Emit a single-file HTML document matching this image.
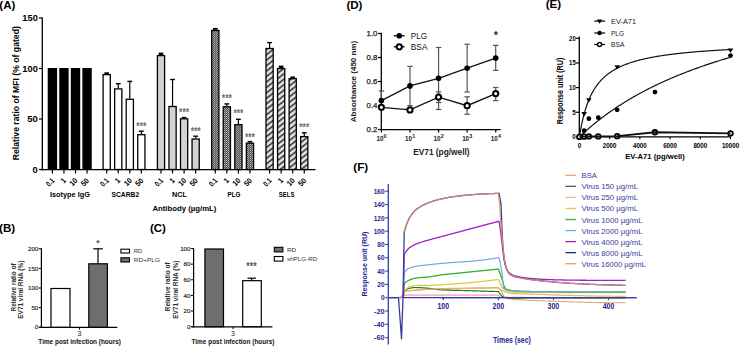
<!DOCTYPE html>
<html><head><meta charset="utf-8"><style>
html,body{margin:0;padding:0;background:#fff;width:740px;height:346px;overflow:hidden;}
svg{display:block;font-family:"Liberation Sans", sans-serif;}
</style></head><body>
<svg width="740" height="346" viewBox="0 0 740 346" font-family='"Liberation Sans", sans-serif'><defs>
<pattern id="dots" width="2" height="2" patternUnits="userSpaceOnUse"><rect width="2" height="2" fill="#555"/><rect x="0" y="0" width="1" height="1" fill="#b4b4b4"/><rect x="1" y="1" width="1" height="1" fill="#8a8a8a"/></pattern>
<pattern id="hatch" width="4.3" height="4.3" patternUnits="userSpaceOnUse" patternTransform="rotate(52)"><rect width="4.3" height="4.3" fill="#dedede"/><rect x="0" y="0" width="1.4" height="4.3" fill="#2a2a2a"/></pattern>
</defs><text x="-0.70" y="8.50" font-size="11.6" font-weight="bold" text-anchor="start" fill="#000" >(A)</text>
<line x1="42.30" y1="17.50" x2="42.30" y2="170.20" stroke="#000" stroke-width="1.3" />
<line x1="40.80" y1="169.60" x2="315.50" y2="169.60" stroke="#000" stroke-width="1.4" />
<line x1="39.00" y1="169.50" x2="42.30" y2="169.50" stroke="#000" stroke-width="1.2" />
<text x="37.80" y="172.50" font-size="8.6" font-weight="bold" text-anchor="end" fill="#000" textLength="5.2" lengthAdjust="spacingAndGlyphs" >0</text>
<line x1="39.00" y1="119.00" x2="42.30" y2="119.00" stroke="#000" stroke-width="1.2" />
<text x="37.80" y="122.00" font-size="8.6" font-weight="bold" text-anchor="end" fill="#000" textLength="10.5" lengthAdjust="spacingAndGlyphs" >50</text>
<line x1="39.00" y1="68.50" x2="42.30" y2="68.50" stroke="#000" stroke-width="1.2" />
<text x="37.80" y="71.50" font-size="8.6" font-weight="bold" text-anchor="end" fill="#000" textLength="15.5" lengthAdjust="spacingAndGlyphs" >100</text>
<line x1="39.00" y1="18.00" x2="42.30" y2="18.00" stroke="#000" stroke-width="1.2" />
<text x="37.80" y="21.00" font-size="8.6" font-weight="bold" text-anchor="end" fill="#000" textLength="15.5" lengthAdjust="spacingAndGlyphs" >150</text>
<text x="19.40" y="93.20" font-size="8.6" font-weight="bold" text-anchor="middle" fill="#000" textLength="134" lengthAdjust="spacingAndGlyphs" transform="rotate(-90 19.40 93.20)" >Relative ratio of MFI (% of gated)</text>
<rect x="47.70" y="68.00" width="9.4" height="101.50" fill="#000"/>
<line x1="52.40" y1="169.60" x2="52.40" y2="173.40" stroke="#000" stroke-width="1.2" />
<text x="55.00" y="181.10" font-size="7.6" font-weight="bold" text-anchor="end" fill="#000" textLength="8.4" lengthAdjust="spacingAndGlyphs" transform="rotate(-45 55.00 181.10)" >0.1</text>
<rect x="59.25" y="68.00" width="9.4" height="101.50" fill="#000"/>
<line x1="63.95" y1="169.60" x2="63.95" y2="173.40" stroke="#000" stroke-width="1.2" />
<text x="66.55" y="181.10" font-size="7.6" font-weight="bold" text-anchor="end" fill="#000" textLength="3.9" lengthAdjust="spacingAndGlyphs" transform="rotate(-45 66.55 181.10)" >1</text>
<rect x="70.80" y="68.00" width="9.4" height="101.50" fill="#000"/>
<line x1="75.50" y1="169.60" x2="75.50" y2="173.40" stroke="#000" stroke-width="1.2" />
<text x="78.10" y="181.10" font-size="7.6" font-weight="bold" text-anchor="end" fill="#000" textLength="7.8" lengthAdjust="spacingAndGlyphs" transform="rotate(-45 78.10 181.10)" >10</text>
<rect x="82.35" y="68.00" width="9.4" height="101.50" fill="#000"/>
<line x1="87.05" y1="169.60" x2="87.05" y2="173.40" stroke="#000" stroke-width="1.2" />
<text x="89.65" y="181.10" font-size="7.6" font-weight="bold" text-anchor="end" fill="#000" textLength="7.9" lengthAdjust="spacingAndGlyphs" transform="rotate(-45 89.65 181.10)" >50</text>
<text x="69.92" y="196.80" font-size="7.5" font-weight="bold" text-anchor="middle" fill="#000" textLength="40" lengthAdjust="spacingAndGlyphs" >Isotype IgG</text>
<rect x="104.40" y="72.30" width="4.6" height="1.70" fill="#000"/>
<rect x="103.10" y="74.60" width="7.2" height="94.90" fill="#fff" stroke="#000" stroke-width="1.3"/>
<line x1="106.70" y1="169.60" x2="106.70" y2="173.40" stroke="#000" stroke-width="1.2" />
<text x="109.30" y="181.10" font-size="7.6" font-weight="bold" text-anchor="end" fill="#000" textLength="8.4" lengthAdjust="spacingAndGlyphs" transform="rotate(-45 109.30 181.10)" >0.1</text>
<line x1="118.25" y1="83.70" x2="118.25" y2="88.30" stroke="#000" stroke-width="1.2" />
<line x1="115.85" y1="83.70" x2="120.65" y2="83.70" stroke="#000" stroke-width="1.4" />
<rect x="114.65" y="88.90" width="7.2" height="80.60" fill="#fff" stroke="#000" stroke-width="1.3"/>
<line x1="118.25" y1="169.60" x2="118.25" y2="173.40" stroke="#000" stroke-width="1.2" />
<text x="120.85" y="181.10" font-size="7.6" font-weight="bold" text-anchor="end" fill="#000" textLength="3.9" lengthAdjust="spacingAndGlyphs" transform="rotate(-45 120.85 181.10)" >1</text>
<line x1="129.80" y1="81.40" x2="129.80" y2="98.70" stroke="#000" stroke-width="1.2" />
<line x1="127.40" y1="81.40" x2="132.20" y2="81.40" stroke="#000" stroke-width="1.4" />
<rect x="126.20" y="99.30" width="7.2" height="70.20" fill="#fff" stroke="#000" stroke-width="1.3"/>
<line x1="129.80" y1="169.60" x2="129.80" y2="173.40" stroke="#000" stroke-width="1.2" />
<text x="132.40" y="181.10" font-size="7.6" font-weight="bold" text-anchor="end" fill="#000" textLength="7.8" lengthAdjust="spacingAndGlyphs" transform="rotate(-45 132.40 181.10)" >10</text>
<line x1="141.35" y1="131.20" x2="141.35" y2="134.10" stroke="#000" stroke-width="1.2" />
<line x1="138.95" y1="131.20" x2="143.75" y2="131.20" stroke="#000" stroke-width="1.4" />
<rect x="137.75" y="134.70" width="7.2" height="34.80" fill="#fff" stroke="#000" stroke-width="1.3"/>
<text x="141.35" y="130.00" font-size="10" font-weight="bold" text-anchor="middle" fill="#6a6a6a" textLength="10" lengthAdjust="spacingAndGlyphs" >***</text>
<line x1="141.35" y1="169.60" x2="141.35" y2="173.40" stroke="#000" stroke-width="1.2" />
<text x="143.95" y="181.10" font-size="7.6" font-weight="bold" text-anchor="end" fill="#000" textLength="7.9" lengthAdjust="spacingAndGlyphs" transform="rotate(-45 143.95 181.10)" >50</text>
<text x="125.32" y="196.80" font-size="7.5" font-weight="bold" text-anchor="middle" fill="#000" textLength="27.6" lengthAdjust="spacingAndGlyphs" >SCARB2</text>
<rect x="158.70" y="52.60" width="4.6" height="2.40" fill="#000"/>
<rect x="157.40" y="55.60" width="7.2" height="113.90" fill="#d2d2d2" stroke="#000" stroke-width="1.3"/>
<line x1="161.00" y1="169.60" x2="161.00" y2="173.40" stroke="#000" stroke-width="1.2" />
<text x="163.60" y="181.10" font-size="7.6" font-weight="bold" text-anchor="end" fill="#000" textLength="8.4" lengthAdjust="spacingAndGlyphs" transform="rotate(-45 163.60 181.10)" >0.1</text>
<line x1="172.55" y1="79.50" x2="172.55" y2="105.90" stroke="#000" stroke-width="1.2" />
<line x1="170.15" y1="79.50" x2="174.95" y2="79.50" stroke="#000" stroke-width="1.4" />
<rect x="168.95" y="106.50" width="7.2" height="63.00" fill="#d2d2d2" stroke="#000" stroke-width="1.3"/>
<line x1="172.55" y1="169.60" x2="172.55" y2="173.40" stroke="#000" stroke-width="1.2" />
<text x="175.15" y="181.10" font-size="7.6" font-weight="bold" text-anchor="end" fill="#000" textLength="3.9" lengthAdjust="spacingAndGlyphs" transform="rotate(-45 175.15 181.10)" >1</text>
<rect x="181.80" y="116.90" width="4.6" height="1.30" fill="#000"/>
<rect x="180.50" y="118.80" width="7.2" height="50.70" fill="#d2d2d2" stroke="#000" stroke-width="1.3"/>
<text x="184.10" y="115.70" font-size="10" font-weight="bold" text-anchor="middle" fill="#6a6a6a" textLength="10" lengthAdjust="spacingAndGlyphs" >***</text>
<line x1="184.10" y1="169.60" x2="184.10" y2="173.40" stroke="#000" stroke-width="1.2" />
<text x="186.70" y="181.10" font-size="7.6" font-weight="bold" text-anchor="end" fill="#000" textLength="7.8" lengthAdjust="spacingAndGlyphs" transform="rotate(-45 186.70 181.10)" >10</text>
<line x1="195.65" y1="136.20" x2="195.65" y2="138.40" stroke="#000" stroke-width="1.2" />
<line x1="193.25" y1="136.20" x2="198.05" y2="136.20" stroke="#000" stroke-width="1.4" />
<rect x="192.05" y="139.00" width="7.2" height="30.50" fill="#d2d2d2" stroke="#000" stroke-width="1.3"/>
<text x="195.65" y="134.60" font-size="10" font-weight="bold" text-anchor="middle" fill="#6a6a6a" textLength="10" lengthAdjust="spacingAndGlyphs" >***</text>
<line x1="195.65" y1="169.60" x2="195.65" y2="173.40" stroke="#000" stroke-width="1.2" />
<text x="198.25" y="181.10" font-size="7.6" font-weight="bold" text-anchor="end" fill="#000" textLength="7.9" lengthAdjust="spacingAndGlyphs" transform="rotate(-45 198.25 181.10)" >50</text>
<text x="179.52" y="196.80" font-size="7.5" font-weight="bold" text-anchor="middle" fill="#000" textLength="15" lengthAdjust="spacingAndGlyphs" >NCL</text>
<rect x="213.00" y="27.90" width="4.6" height="1.90" fill="#000"/>
<rect x="211.70" y="30.40" width="7.2" height="139.10" fill="url(#dots)" stroke="#000" stroke-width="1.3"/>
<line x1="215.30" y1="169.60" x2="215.30" y2="173.40" stroke="#000" stroke-width="1.2" />
<text x="217.90" y="181.10" font-size="7.6" font-weight="bold" text-anchor="end" fill="#000" textLength="8.4" lengthAdjust="spacingAndGlyphs" transform="rotate(-45 217.90 181.10)" >0.1</text>
<line x1="226.85" y1="103.90" x2="226.85" y2="106.20" stroke="#000" stroke-width="1.2" />
<line x1="224.45" y1="103.90" x2="229.25" y2="103.90" stroke="#000" stroke-width="1.4" />
<rect x="223.25" y="106.80" width="7.2" height="62.70" fill="url(#dots)" stroke="#000" stroke-width="1.3"/>
<text x="226.85" y="102.30" font-size="10" font-weight="bold" text-anchor="middle" fill="#6a6a6a" textLength="10" lengthAdjust="spacingAndGlyphs" >***</text>
<line x1="226.85" y1="169.60" x2="226.85" y2="173.40" stroke="#000" stroke-width="1.2" />
<text x="229.45" y="181.10" font-size="7.6" font-weight="bold" text-anchor="end" fill="#000" textLength="3.9" lengthAdjust="spacingAndGlyphs" transform="rotate(-45 229.45 181.10)" >1</text>
<line x1="238.40" y1="119.30" x2="238.40" y2="124.10" stroke="#000" stroke-width="1.2" />
<line x1="236.00" y1="119.30" x2="240.80" y2="119.30" stroke="#000" stroke-width="1.4" />
<rect x="234.80" y="124.70" width="7.2" height="44.80" fill="url(#dots)" stroke="#000" stroke-width="1.3"/>
<text x="238.40" y="117.30" font-size="10" font-weight="bold" text-anchor="middle" fill="#6a6a6a" textLength="10" lengthAdjust="spacingAndGlyphs" >***</text>
<line x1="238.40" y1="169.60" x2="238.40" y2="173.40" stroke="#000" stroke-width="1.2" />
<text x="241.00" y="181.10" font-size="7.6" font-weight="bold" text-anchor="end" fill="#000" textLength="7.8" lengthAdjust="spacingAndGlyphs" transform="rotate(-45 241.00 181.10)" >10</text>
<rect x="247.65" y="140.90" width="4.6" height="1.70" fill="#000"/>
<rect x="246.35" y="143.20" width="7.2" height="26.30" fill="url(#dots)" stroke="#000" stroke-width="1.3"/>
<text x="249.95" y="140.70" font-size="10" font-weight="bold" text-anchor="middle" fill="#6a6a6a" textLength="10" lengthAdjust="spacingAndGlyphs" >***</text>
<line x1="249.95" y1="169.60" x2="249.95" y2="173.40" stroke="#000" stroke-width="1.2" />
<text x="252.55" y="181.10" font-size="7.6" font-weight="bold" text-anchor="end" fill="#000" textLength="7.9" lengthAdjust="spacingAndGlyphs" transform="rotate(-45 252.55 181.10)" >50</text>
<text x="233.93" y="196.80" font-size="7.5" font-weight="bold" text-anchor="middle" fill="#000" textLength="13" lengthAdjust="spacingAndGlyphs" >PLG</text>
<line x1="269.60" y1="42.60" x2="269.60" y2="47.90" stroke="#000" stroke-width="1.2" />
<line x1="267.20" y1="42.60" x2="272.00" y2="42.60" stroke="#000" stroke-width="1.4" />
<rect x="266.00" y="48.50" width="7.2" height="121.00" fill="url(#hatch)" stroke="#000" stroke-width="1.3"/>
<line x1="269.60" y1="169.60" x2="269.60" y2="173.40" stroke="#000" stroke-width="1.2" />
<text x="272.20" y="181.10" font-size="7.6" font-weight="bold" text-anchor="end" fill="#000" textLength="8.4" lengthAdjust="spacingAndGlyphs" transform="rotate(-45 272.20 181.10)" >0.1</text>
<rect x="278.85" y="65.60" width="4.6" height="2.40" fill="#000"/>
<rect x="277.55" y="68.60" width="7.2" height="100.90" fill="url(#hatch)" stroke="#000" stroke-width="1.3"/>
<line x1="281.15" y1="169.60" x2="281.15" y2="173.40" stroke="#000" stroke-width="1.2" />
<text x="283.75" y="181.10" font-size="7.6" font-weight="bold" text-anchor="end" fill="#000" textLength="3.9" lengthAdjust="spacingAndGlyphs" transform="rotate(-45 283.75 181.10)" >1</text>
<rect x="290.40" y="76.50" width="4.6" height="1.60" fill="#000"/>
<rect x="289.10" y="78.70" width="7.2" height="90.80" fill="url(#hatch)" stroke="#000" stroke-width="1.3"/>
<line x1="292.70" y1="169.60" x2="292.70" y2="173.40" stroke="#000" stroke-width="1.2" />
<text x="295.30" y="181.10" font-size="7.6" font-weight="bold" text-anchor="end" fill="#000" textLength="7.8" lengthAdjust="spacingAndGlyphs" transform="rotate(-45 295.30 181.10)" >10</text>
<line x1="304.25" y1="132.80" x2="304.25" y2="136.00" stroke="#000" stroke-width="1.2" />
<line x1="301.85" y1="132.80" x2="306.65" y2="132.80" stroke="#000" stroke-width="1.4" />
<rect x="300.65" y="136.60" width="7.2" height="32.90" fill="url(#hatch)" stroke="#000" stroke-width="1.3"/>
<text x="304.25" y="131.30" font-size="10" font-weight="bold" text-anchor="middle" fill="#6a6a6a" textLength="10" lengthAdjust="spacingAndGlyphs" >***</text>
<line x1="304.25" y1="169.60" x2="304.25" y2="173.40" stroke="#000" stroke-width="1.2" />
<text x="306.85" y="181.10" font-size="7.6" font-weight="bold" text-anchor="end" fill="#000" textLength="7.9" lengthAdjust="spacingAndGlyphs" transform="rotate(-45 306.85 181.10)" >50</text>
<text x="286.62" y="196.80" font-size="7.5" font-weight="bold" text-anchor="middle" fill="#000" textLength="15.5" lengthAdjust="spacingAndGlyphs" >SELS</text>
<text x="184.40" y="211.20" font-size="7.9" font-weight="bold" text-anchor="middle" fill="#000" textLength="64" lengthAdjust="spacingAndGlyphs" >Antibody (µg/mL)</text>
<text x="346.40" y="8.70" font-size="11.6" font-weight="bold" text-anchor="start" fill="#000" >(D)</text>
<line x1="381.30" y1="32.80" x2="381.30" y2="130.20" stroke="#000" stroke-width="1.3" />
<line x1="380.60" y1="129.60" x2="500.50" y2="129.60" stroke="#000" stroke-width="1.4" />
<line x1="378.00" y1="129.50" x2="381.30" y2="129.50" stroke="#000" stroke-width="1.2" />
<text x="377.40" y="132.30" font-size="7.8" font-weight="normal" text-anchor="end" fill="#1a1a1a" stroke="#1a1a1a" stroke-width="0.25">0.2</text>
<line x1="378.00" y1="105.50" x2="381.30" y2="105.50" stroke="#000" stroke-width="1.2" />
<text x="377.40" y="108.30" font-size="7.8" font-weight="normal" text-anchor="end" fill="#1a1a1a" stroke="#1a1a1a" stroke-width="0.25">0.4</text>
<line x1="378.00" y1="81.50" x2="381.30" y2="81.50" stroke="#000" stroke-width="1.2" />
<text x="377.40" y="84.30" font-size="7.8" font-weight="normal" text-anchor="end" fill="#1a1a1a" stroke="#1a1a1a" stroke-width="0.25">0.6</text>
<line x1="378.00" y1="57.50" x2="381.30" y2="57.50" stroke="#000" stroke-width="1.2" />
<text x="377.40" y="60.30" font-size="7.8" font-weight="normal" text-anchor="end" fill="#1a1a1a" stroke="#1a1a1a" stroke-width="0.25">0.8</text>
<line x1="378.00" y1="33.50" x2="381.30" y2="33.50" stroke="#000" stroke-width="1.2" />
<text x="377.40" y="36.30" font-size="7.8" font-weight="normal" text-anchor="end" fill="#1a1a1a" stroke="#1a1a1a" stroke-width="0.25">1.0</text>
<line x1="381.40" y1="129.60" x2="381.40" y2="132.60" stroke="#000" stroke-width="1.2" />
<text x="376.40" y="140.90" font-size="7.4" font-weight="bold" text-anchor="start" fill="#222" textLength="7.0" lengthAdjust="spacingAndGlyphs" >10</text>
<text x="383.60" y="138.20" font-size="5.0" font-weight="bold" text-anchor="start" fill="#222" textLength="3.0" lengthAdjust="spacingAndGlyphs" >0</text>
<line x1="409.98" y1="129.60" x2="409.98" y2="132.60" stroke="#000" stroke-width="1.2" />
<text x="404.98" y="140.90" font-size="7.4" font-weight="bold" text-anchor="start" fill="#222" textLength="7.0" lengthAdjust="spacingAndGlyphs" >10</text>
<text x="412.18" y="138.20" font-size="5.0" font-weight="bold" text-anchor="start" fill="#222" textLength="3.0" lengthAdjust="spacingAndGlyphs" >1</text>
<line x1="438.56" y1="129.60" x2="438.56" y2="132.60" stroke="#000" stroke-width="1.2" />
<text x="433.56" y="140.90" font-size="7.4" font-weight="bold" text-anchor="start" fill="#222" textLength="7.0" lengthAdjust="spacingAndGlyphs" >10</text>
<text x="440.76" y="138.20" font-size="5.0" font-weight="bold" text-anchor="start" fill="#222" textLength="3.0" lengthAdjust="spacingAndGlyphs" >2</text>
<line x1="467.14" y1="129.60" x2="467.14" y2="132.60" stroke="#000" stroke-width="1.2" />
<text x="462.14" y="140.90" font-size="7.4" font-weight="bold" text-anchor="start" fill="#222" textLength="7.0" lengthAdjust="spacingAndGlyphs" >10</text>
<text x="469.34" y="138.20" font-size="5.0" font-weight="bold" text-anchor="start" fill="#222" textLength="3.0" lengthAdjust="spacingAndGlyphs" >3</text>
<line x1="495.72" y1="129.60" x2="495.72" y2="132.60" stroke="#000" stroke-width="1.2" />
<text x="490.72" y="140.90" font-size="7.4" font-weight="bold" text-anchor="start" fill="#222" textLength="7.0" lengthAdjust="spacingAndGlyphs" >10</text>
<text x="497.92" y="138.20" font-size="5.0" font-weight="bold" text-anchor="start" fill="#222" textLength="3.0" lengthAdjust="spacingAndGlyphs" >4</text>
<text x="441.40" y="155.40" font-size="8.2" font-weight="bold" text-anchor="middle" fill="#222" textLength="56.5" lengthAdjust="spacingAndGlyphs" >EV71 (pg/well)</text>
<text x="356.20" y="81.50" font-size="8.0" font-weight="bold" text-anchor="middle" fill="#222" transform="rotate(-90 356.20 81.50)" >Absorbance (450 nm)</text>
<line x1="381.40" y1="91.00" x2="381.40" y2="100.60" stroke="#555" stroke-width="1.2" />
<line x1="378.70" y1="91.00" x2="384.10" y2="91.00" stroke="#555" stroke-width="1.2" />
<line x1="409.98" y1="66.40" x2="409.98" y2="85.90" stroke="#555" stroke-width="1.2" />
<line x1="407.28" y1="66.40" x2="412.68" y2="66.40" stroke="#555" stroke-width="1.2" />
<line x1="409.98" y1="85.90" x2="409.98" y2="105.60" stroke="#555" stroke-width="1.2" />
<line x1="407.28" y1="105.60" x2="412.68" y2="105.60" stroke="#555" stroke-width="1.2" />
<line x1="438.56" y1="47.50" x2="438.56" y2="78.30" stroke="#555" stroke-width="1.2" />
<line x1="435.86" y1="47.50" x2="441.26" y2="47.50" stroke="#555" stroke-width="1.2" />
<line x1="438.56" y1="78.30" x2="438.56" y2="109.50" stroke="#555" stroke-width="1.2" />
<line x1="435.86" y1="109.50" x2="441.26" y2="109.50" stroke="#555" stroke-width="1.2" />
<line x1="438.56" y1="91.90" x2="438.56" y2="97.10" stroke="#555" stroke-width="1.2" />
<line x1="435.86" y1="91.90" x2="441.26" y2="91.90" stroke="#555" stroke-width="1.2" />
<line x1="438.56" y1="97.10" x2="438.56" y2="102.50" stroke="#555" stroke-width="1.2" />
<line x1="435.86" y1="102.50" x2="441.26" y2="102.50" stroke="#555" stroke-width="1.2" />
<line x1="467.14" y1="44.20" x2="467.14" y2="68.20" stroke="#555" stroke-width="1.2" />
<line x1="464.44" y1="44.20" x2="469.84" y2="44.20" stroke="#555" stroke-width="1.2" />
<line x1="467.14" y1="68.20" x2="467.14" y2="92.00" stroke="#555" stroke-width="1.2" />
<line x1="464.44" y1="92.00" x2="469.84" y2="92.00" stroke="#555" stroke-width="1.2" />
<line x1="467.14" y1="96.80" x2="467.14" y2="105.70" stroke="#555" stroke-width="1.2" />
<line x1="464.44" y1="96.80" x2="469.84" y2="96.80" stroke="#555" stroke-width="1.2" />
<line x1="467.14" y1="105.70" x2="467.14" y2="114.30" stroke="#555" stroke-width="1.2" />
<line x1="464.44" y1="114.30" x2="469.84" y2="114.30" stroke="#555" stroke-width="1.2" />
<line x1="495.72" y1="45.40" x2="495.72" y2="58.10" stroke="#555" stroke-width="1.2" />
<line x1="493.02" y1="45.40" x2="498.42" y2="45.40" stroke="#555" stroke-width="1.2" />
<line x1="495.72" y1="58.10" x2="495.72" y2="70.30" stroke="#555" stroke-width="1.2" />
<line x1="493.02" y1="70.30" x2="498.42" y2="70.30" stroke="#555" stroke-width="1.2" />
<line x1="495.72" y1="87.50" x2="495.72" y2="93.60" stroke="#555" stroke-width="1.2" />
<line x1="493.02" y1="87.50" x2="498.42" y2="87.50" stroke="#555" stroke-width="1.2" />
<line x1="495.72" y1="93.60" x2="495.72" y2="100.60" stroke="#555" stroke-width="1.2" />
<line x1="493.02" y1="100.60" x2="498.42" y2="100.60" stroke="#555" stroke-width="1.2" />
<polyline points="381.40,100.60 409.98,85.90 438.56,78.30 467.14,68.20 495.72,58.10" fill="none" stroke="#111" stroke-width="1.3"/>
<polyline points="381.40,107.30 409.98,109.90 438.56,97.10 467.14,105.70 495.72,93.60" fill="none" stroke="#111" stroke-width="1.3"/>
<circle cx="381.40" cy="100.60" r="2.8" fill="#000"/>
<circle cx="381.40" cy="107.30" r="2.6" fill="#fff" stroke="#000" stroke-width="2.0"/>
<circle cx="409.98" cy="85.90" r="2.8" fill="#000"/>
<circle cx="409.98" cy="109.90" r="2.6" fill="#fff" stroke="#000" stroke-width="2.0"/>
<circle cx="438.56" cy="78.30" r="2.8" fill="#000"/>
<circle cx="438.56" cy="97.10" r="2.6" fill="#fff" stroke="#000" stroke-width="2.0"/>
<circle cx="467.14" cy="68.20" r="2.8" fill="#000"/>
<circle cx="467.14" cy="105.70" r="2.6" fill="#fff" stroke="#000" stroke-width="2.0"/>
<circle cx="495.72" cy="58.10" r="2.8" fill="#000"/>
<circle cx="495.72" cy="93.60" r="2.6" fill="#fff" stroke="#000" stroke-width="2.0"/>
<text x="495.80" y="38.50" font-size="11" font-weight="bold" text-anchor="middle" fill="#333" >*</text>
<line x1="393.80" y1="35.80" x2="404.60" y2="35.80" stroke="#000" stroke-width="1.3" />
<circle cx="399.3" cy="35.8" r="2.8" fill="#000"/>
<text x="410.80" y="38.60" font-size="9.2" font-weight="normal" text-anchor="start" fill="#111" textLength="16.3" lengthAdjust="spacingAndGlyphs" >PLG</text>
<line x1="393.80" y1="46.80" x2="404.60" y2="46.80" stroke="#000" stroke-width="1.3" />
<circle cx="399.3" cy="46.8" r="2.6" fill="#fff" stroke="#000" stroke-width="2.0"/>
<text x="410.80" y="49.80" font-size="9.2" font-weight="normal" text-anchor="start" fill="#111" textLength="16.7" lengthAdjust="spacingAndGlyphs" >BSA</text>
<text x="545.70" y="8.40" font-size="11.6" font-weight="bold" text-anchor="start" fill="#000" >(E)</text>
<line x1="579.30" y1="36.60" x2="579.30" y2="137.60" stroke="#000" stroke-width="1.3" />
<line x1="578.70" y1="136.90" x2="730.80" y2="136.90" stroke="#000" stroke-width="1.4" />
<line x1="576.00" y1="136.90" x2="579.30" y2="136.90" stroke="#000" stroke-width="1.2" />
<text x="575.80" y="139.20" font-size="7.8" font-weight="bold" text-anchor="end" fill="#000" textLength="3.5" lengthAdjust="spacingAndGlyphs" >0</text>
<line x1="576.00" y1="112.25" x2="579.30" y2="112.25" stroke="#000" stroke-width="1.2" />
<text x="575.80" y="114.55" font-size="7.8" font-weight="bold" text-anchor="end" fill="#000" textLength="3.5" lengthAdjust="spacingAndGlyphs" >5</text>
<line x1="576.00" y1="87.60" x2="579.30" y2="87.60" stroke="#000" stroke-width="1.2" />
<text x="575.80" y="89.90" font-size="7.8" font-weight="bold" text-anchor="end" fill="#000" textLength="6.7" lengthAdjust="spacingAndGlyphs" >10</text>
<line x1="576.00" y1="62.95" x2="579.30" y2="62.95" stroke="#000" stroke-width="1.2" />
<text x="575.80" y="65.25" font-size="7.8" font-weight="bold" text-anchor="end" fill="#000" textLength="6.7" lengthAdjust="spacingAndGlyphs" >15</text>
<line x1="576.00" y1="38.30" x2="579.30" y2="38.30" stroke="#000" stroke-width="1.2" />
<text x="575.80" y="40.60" font-size="7.8" font-weight="bold" text-anchor="end" fill="#000" textLength="6.7" lengthAdjust="spacingAndGlyphs" >20</text>
<line x1="579.40" y1="136.90" x2="579.40" y2="139.20" stroke="#000" stroke-width="1.1" />
<text x="579.40" y="148.30" font-size="8.0" font-weight="bold" text-anchor="middle" fill="#000" textLength="3.45" lengthAdjust="spacingAndGlyphs" >0</text>
<line x1="609.62" y1="136.90" x2="609.62" y2="139.20" stroke="#000" stroke-width="1.1" />
<text x="609.62" y="148.30" font-size="8.0" font-weight="bold" text-anchor="middle" fill="#000" textLength="13.8" lengthAdjust="spacingAndGlyphs" >2000</text>
<line x1="639.84" y1="136.90" x2="639.84" y2="139.20" stroke="#000" stroke-width="1.1" />
<text x="639.84" y="148.30" font-size="8.0" font-weight="bold" text-anchor="middle" fill="#000" textLength="13.8" lengthAdjust="spacingAndGlyphs" >4000</text>
<line x1="670.06" y1="136.90" x2="670.06" y2="139.20" stroke="#000" stroke-width="1.1" />
<text x="670.06" y="148.30" font-size="8.0" font-weight="bold" text-anchor="middle" fill="#000" textLength="13.8" lengthAdjust="spacingAndGlyphs" >6000</text>
<line x1="700.28" y1="136.90" x2="700.28" y2="139.20" stroke="#000" stroke-width="1.1" />
<text x="700.28" y="148.30" font-size="8.0" font-weight="bold" text-anchor="middle" fill="#000" textLength="13.8" lengthAdjust="spacingAndGlyphs" >8000</text>
<line x1="730.50" y1="136.90" x2="730.50" y2="139.20" stroke="#000" stroke-width="1.1" />
<text x="730.50" y="148.30" font-size="8.0" font-weight="bold" text-anchor="middle" fill="#000" textLength="17.25" lengthAdjust="spacingAndGlyphs" >10000</text>
<text x="655.00" y="159.00" font-size="8.0" font-weight="bold" text-anchor="middle" fill="#000" textLength="59.5" lengthAdjust="spacingAndGlyphs" >EV-A71 (pg/well)</text>
<text x="563.30" y="91.00" font-size="8.2" font-weight="bold" text-anchor="middle" fill="#000" textLength="66.6" lengthAdjust="spacingAndGlyphs" transform="rotate(-90 563.30 91.00)" >Response unit (RU)</text>
<polyline points="579.40,136.90 580.16,132.30 580.92,128.12 581.68,124.31 582.44,120.81 583.20,117.60 583.96,114.63 584.72,111.88 585.47,109.33 586.23,106.96 586.99,104.75 587.75,102.68 588.51,100.74 589.27,98.91 590.03,97.20 590.79,95.58 591.55,94.05 592.31,92.61 593.07,91.24 593.83,89.94 594.59,88.71 595.35,87.54 596.10,86.42 596.86,85.36 597.62,84.34 598.38,83.37 599.14,82.44 599.90,81.56 600.66,80.70 601.42,79.89 602.18,79.10 602.94,78.35 603.70,77.63 604.46,76.93 605.22,76.26 605.98,75.61 606.73,74.99 607.49,74.39 608.25,73.81 609.01,73.25 609.77,72.70 610.53,72.18 611.29,71.67 612.05,71.18 612.81,70.70 613.57,70.24 614.33,69.80 615.09,69.36 615.85,68.94 616.61,68.53 617.36,68.13 618.12,67.75 618.88,67.37 619.64,67.01 620.40,66.65 621.16,66.31 621.92,65.97 622.68,65.64 623.44,65.32 624.20,65.01 624.96,64.71 625.72,64.41 626.48,64.12 627.24,63.84 627.99,63.57 628.75,63.30 629.51,63.04 630.27,62.78 631.03,62.53 631.79,62.28 632.55,62.05 633.31,61.81 634.07,61.58 634.83,61.36 635.59,61.14 636.35,60.92 637.11,60.71 637.87,60.51 638.63,60.31 639.38,60.11 640.14,59.92 640.90,59.73 641.66,59.54 642.42,59.36 643.18,59.18 643.94,59.00 644.70,58.83 645.46,58.66 646.22,58.50 646.98,58.33 647.74,58.17 648.50,58.02 649.26,57.86 650.01,57.71 650.77,57.56 651.53,57.42 652.29,57.27 653.05,57.13 653.81,56.99 654.57,56.85 655.33,56.72 656.09,56.59 656.85,56.46 657.61,56.33 658.37,56.21 659.13,56.08 659.89,55.96 660.64,55.84 661.40,55.72 662.16,55.61 662.92,55.49 663.68,55.38 664.44,55.27 665.20,55.16 665.96,55.05 666.72,54.95 667.48,54.84 668.24,54.74 669.00,54.64 669.76,54.54 670.52,54.44 671.27,54.34 672.03,54.25 672.79,54.15 673.55,54.06 674.31,53.97 675.07,53.88 675.83,53.79 676.59,53.70 677.35,53.61 678.11,53.53 678.87,53.44 679.63,53.36 680.39,53.28 681.15,53.20 681.91,53.12 682.66,53.04 683.42,52.96 684.18,52.88 684.94,52.80 685.70,52.73 686.46,52.65 687.22,52.58 687.98,52.51 688.74,52.44 689.50,52.37 690.26,52.30 691.02,52.23 691.78,52.16 692.54,52.09 693.29,52.03 694.05,51.96 694.81,51.89 695.57,51.83 696.33,51.77 697.09,51.70 697.85,51.64 698.61,51.58 699.37,51.52 700.13,51.46 700.89,51.40 701.65,51.34 702.41,51.28 703.17,51.22 703.92,51.17 704.68,51.11 705.44,51.06 706.20,51.00 706.96,50.95 707.72,50.89 708.48,50.84 709.24,50.79 710.00,50.73 710.76,50.68 711.52,50.63 712.28,50.58 713.04,50.53 713.80,50.48 714.55,50.43 715.31,50.38 716.07,50.34 716.83,50.29 717.59,50.24 718.35,50.19 719.11,50.15 719.87,50.10 720.63,50.06 721.39,50.01 722.15,49.97 722.91,49.92 723.67,49.88 724.43,49.84 725.18,49.79 725.94,49.75 726.70,49.71 727.46,49.67 728.22,49.63 728.98,49.59 729.74,49.54 730.50,49.50" fill="none" stroke="#111" stroke-width="1.2"/>
<polyline points="579.40,136.90 580.16,136.18 580.92,135.47 581.68,134.76 582.44,134.06 583.20,133.36 583.96,132.67 584.72,131.98 585.47,131.30 586.23,130.63 586.99,129.96 587.75,129.29 588.51,128.63 589.27,127.98 590.03,127.33 590.79,126.68 591.55,126.05 592.31,125.41 593.07,124.78 593.83,124.16 594.59,123.53 595.35,122.92 596.10,122.31 596.86,121.70 597.62,121.10 598.38,120.50 599.14,119.91 599.90,119.32 600.66,118.73 601.42,118.15 602.18,117.58 602.94,117.00 603.70,116.44 604.46,115.87 605.22,115.31 605.98,114.75 606.73,114.20 607.49,113.65 608.25,113.11 609.01,112.57 609.77,112.03 610.53,111.50 611.29,110.97 612.05,110.44 612.81,109.92 613.57,109.40 614.33,108.89 615.09,108.38 615.85,107.87 616.61,107.36 617.36,106.86 618.12,106.36 618.88,105.87 619.64,105.38 620.40,104.89 621.16,104.40 621.92,103.92 622.68,103.44 623.44,102.97 624.20,102.50 624.96,102.03 625.72,101.56 626.48,101.10 627.24,100.64 627.99,100.18 628.75,99.73 629.51,99.28 630.27,98.83 631.03,98.38 631.79,97.94 632.55,97.50 633.31,97.06 634.07,96.63 634.83,96.19 635.59,95.77 636.35,95.34 637.11,94.92 637.87,94.49 638.63,94.08 639.38,93.66 640.14,93.25 640.90,92.84 641.66,92.43 642.42,92.02 643.18,91.62 643.94,91.22 644.70,90.82 645.46,90.42 646.22,90.03 646.98,89.64 647.74,89.25 648.50,88.86 649.26,88.48 650.01,88.09 650.77,87.71 651.53,87.33 652.29,86.96 653.05,86.59 653.81,86.21 654.57,85.84 655.33,85.48 656.09,85.11 656.85,84.75 657.61,84.39 658.37,84.03 659.13,83.67 659.89,83.32 660.64,82.97 661.40,82.62 662.16,82.27 662.92,81.92 663.68,81.57 664.44,81.23 665.20,80.89 665.96,80.55 666.72,80.21 667.48,79.88 668.24,79.55 669.00,79.21 669.76,78.88 670.52,78.56 671.27,78.23 672.03,77.90 672.79,77.58 673.55,77.26 674.31,76.94 675.07,76.62 675.83,76.31 676.59,75.99 677.35,75.68 678.11,75.37 678.87,75.06 679.63,74.75 680.39,74.45 681.15,74.14 681.91,73.84 682.66,73.54 683.42,73.24 684.18,72.94 684.94,72.64 685.70,72.35 686.46,72.05 687.22,71.76 687.98,71.47 688.74,71.18 689.50,70.90 690.26,70.61 691.02,70.32 691.78,70.04 692.54,69.76 693.29,69.48 694.05,69.20 694.81,68.92 695.57,68.65 696.33,68.37 697.09,68.10 697.85,67.83 698.61,67.56 699.37,67.29 700.13,67.02 700.89,66.75 701.65,66.49 702.41,66.22 703.17,65.96 703.92,65.70 704.68,65.44 705.44,65.18 706.20,64.92 706.96,64.66 707.72,64.41 708.48,64.15 709.24,63.90 710.00,63.65 710.76,63.40 711.52,63.15 712.28,62.90 713.04,62.65 713.80,62.41 714.55,62.16 715.31,61.92 716.07,61.68 716.83,61.44 717.59,61.20 718.35,60.96 719.11,60.72 719.87,60.48 720.63,60.25 721.39,60.01 722.15,59.78 722.91,59.55 723.67,59.32 724.43,59.09 725.18,58.86 725.94,58.63 726.70,58.40 727.46,58.18 728.22,57.95 728.98,57.73 729.74,57.50 730.50,57.28" fill="none" stroke="#111" stroke-width="1.2"/>
<path d="M576.60,135.22 L582.20,135.22 L579.40,139.56 Z" fill="#000"/>
<path d="M581.32,112.05 L586.92,112.05 L584.12,116.39 Z" fill="#000"/>
<path d="M586.04,98.25 L591.64,98.25 L588.84,102.59 Z" fill="#000"/>
<path d="M614.38,65.21 L619.97,65.21 L617.17,69.55 Z" fill="#000"/>
<path d="M727.70,48.45 L733.30,48.45 L730.50,52.79 Z" fill="#000"/>
<circle cx="579.40" cy="136.90" r="2.4" fill="#000"/>
<circle cx="584.12" cy="130.74" r="2.4" fill="#000"/>
<circle cx="588.84" cy="118.66" r="2.4" fill="#000"/>
<circle cx="598.29" cy="117.67" r="2.4" fill="#000"/>
<circle cx="617.17" cy="109.79" r="2.4" fill="#000"/>
<circle cx="654.95" cy="92.04" r="2.4" fill="#000"/>
<circle cx="730.50" cy="55.56" r="2.4" fill="#000"/>
<circle cx="579.40" cy="136.90" r="2.3" fill="#fff" stroke="#000" stroke-width="1.8"/>
<circle cx="584.12" cy="136.65" r="2.3" fill="#fff" stroke="#000" stroke-width="1.8"/>
<circle cx="588.84" cy="136.41" r="2.3" fill="#fff" stroke="#000" stroke-width="1.8"/>
<circle cx="598.29" cy="136.41" r="2.3" fill="#fff" stroke="#000" stroke-width="1.8"/>
<circle cx="617.17" cy="136.16" r="2.3" fill="#fff" stroke="#000" stroke-width="1.8"/>
<circle cx="654.95" cy="132.32" r="2.3" fill="#fff" stroke="#000" stroke-width="1.8"/>
<circle cx="730.50" cy="133.40" r="2.3" fill="#fff" stroke="#000" stroke-width="1.8"/>
<polyline points="579.40,136.90 584.12,136.65 588.84,136.41 598.29,136.41 617.17,136.16 654.95,132.32 730.50,133.40" fill="none" stroke="#111" stroke-width="1.9"/>
<line x1="594.30" y1="21.10" x2="605.10" y2="21.10" stroke="#000" stroke-width="1.2" />
<path d="M596.90,19.48 L602.30,19.48 L599.60,23.67 Z" fill="#000"/>
<text x="611.00" y="24.00" font-size="8.0" font-weight="normal" text-anchor="start" fill="#222" textLength="25" lengthAdjust="spacingAndGlyphs" >EV-A71</text>
<line x1="594.30" y1="33.00" x2="605.10" y2="33.00" stroke="#000" stroke-width="1.2" />
<circle cx="599.6" cy="33.0" r="2.2" fill="#000"/>
<text x="611.00" y="35.90" font-size="8.0" font-weight="normal" text-anchor="start" fill="#222" textLength="13" lengthAdjust="spacingAndGlyphs" >PLG</text>
<line x1="594.30" y1="44.50" x2="605.10" y2="44.50" stroke="#000" stroke-width="1.2" />
<circle cx="599.6" cy="44.5" r="2.0" fill="#fff" stroke="#000" stroke-width="1.4"/>
<text x="611.00" y="47.40" font-size="8.0" font-weight="normal" text-anchor="start" fill="#222" textLength="13.4" lengthAdjust="spacingAndGlyphs" >BSA</text>
<text x="-0.90" y="232.00" font-size="11.6" font-weight="bold" text-anchor="start" fill="#000" >(B)</text>
<line x1="41.40" y1="248.20" x2="41.40" y2="327.80" stroke="#000" stroke-width="1.2" />
<line x1="39.40" y1="327.30" x2="117.30" y2="327.30" stroke="#000" stroke-width="1.2" />
<line x1="38.60" y1="327.20" x2="41.40" y2="327.20" stroke="#000" stroke-width="1.0" />
<text x="38.30" y="329.40" font-size="6.2" font-weight="normal" text-anchor="end" fill="#222" stroke="#222" stroke-width="0.15">0</text>
<line x1="38.60" y1="307.60" x2="41.40" y2="307.60" stroke="#000" stroke-width="1.0" />
<text x="38.30" y="309.80" font-size="6.2" font-weight="normal" text-anchor="end" fill="#222" stroke="#222" stroke-width="0.15">50</text>
<line x1="38.60" y1="288.00" x2="41.40" y2="288.00" stroke="#000" stroke-width="1.0" />
<text x="38.30" y="290.20" font-size="6.2" font-weight="normal" text-anchor="end" fill="#222" stroke="#222" stroke-width="0.15">100</text>
<line x1="38.60" y1="268.40" x2="41.40" y2="268.40" stroke="#000" stroke-width="1.0" />
<text x="38.30" y="270.60" font-size="6.2" font-weight="normal" text-anchor="end" fill="#222" stroke="#222" stroke-width="0.15">150</text>
<line x1="38.60" y1="248.80" x2="41.40" y2="248.80" stroke="#000" stroke-width="1.0" />
<text x="38.30" y="251.00" font-size="6.2" font-weight="normal" text-anchor="end" fill="#222" stroke="#222" stroke-width="0.15">200</text>
<rect x="51.0" y="288.50" width="19.0" height="38.70" fill="#fff" stroke="#000" stroke-width="1.2"/>
<line x1="98.00" y1="248.80" x2="98.00" y2="263.30" stroke="#000" stroke-width="1.2" />
<line x1="93.20" y1="248.80" x2="102.80" y2="248.80" stroke="#000" stroke-width="1.2" />
<rect x="88.8" y="263.80" width="18.6" height="63.40" fill="#6e6e6e" stroke="#000" stroke-width="1.2"/>
<text x="98.00" y="245.50" font-size="8.5" font-weight="bold" text-anchor="middle" fill="#555" >*</text>
<line x1="79.50" y1="327.30" x2="79.50" y2="329.50" stroke="#000" stroke-width="1.0" />
<text x="79.50" y="336.20" font-size="7" font-weight="normal" text-anchor="middle" fill="#222" >3</text>
<text x="79.60" y="344.40" font-size="7.2" font-weight="bold" text-anchor="middle" fill="#111" textLength="82.5" lengthAdjust="spacingAndGlyphs" >Time post infection (hours)</text>
<text x="15.90" y="287.40" font-size="6.3" font-weight="bold" text-anchor="middle" fill="#2a2a2a" textLength="48" lengthAdjust="spacingAndGlyphs" transform="rotate(-90 15.90 287.40)" >Relative ratio of</text>
<text x="22.70" y="289.70" font-size="6.3" font-weight="bold" text-anchor="middle" fill="#2a2a2a" textLength="58" lengthAdjust="spacingAndGlyphs" transform="rotate(-90 22.70 289.70)" >EV71 viral RNA (%)</text>
<rect x="120.9" y="249.2" width="8.6" height="3.8" fill="#fff" stroke="#000" stroke-width="1.1"/>
<rect x="120.9" y="257.8" width="8.6" height="4.2" fill="#6e6e6e" stroke="#000" stroke-width="1.1"/>
<text x="133.80" y="253.10" font-size="6.2" font-weight="normal" text-anchor="start" fill="#333" textLength="8.6" lengthAdjust="spacingAndGlyphs" >RD</text>
<text x="133.80" y="262.10" font-size="6.2" font-weight="normal" text-anchor="start" fill="#333" textLength="26.2" lengthAdjust="spacingAndGlyphs" >RD+PLG</text>
<text x="149.90" y="232.10" font-size="11.6" font-weight="bold" text-anchor="start" fill="#000" >(C)</text>
<line x1="193.60" y1="248.20" x2="193.60" y2="327.20" stroke="#000" stroke-width="1.2" />
<line x1="191.60" y1="326.80" x2="272.40" y2="326.80" stroke="#000" stroke-width="1.2" />
<line x1="190.80" y1="326.70" x2="193.60" y2="326.70" stroke="#000" stroke-width="1.0" />
<text x="190.50" y="328.90" font-size="6.2" font-weight="normal" text-anchor="end" fill="#222" stroke="#222" stroke-width="0.15">0</text>
<line x1="190.80" y1="311.06" x2="193.60" y2="311.06" stroke="#000" stroke-width="1.0" />
<text x="190.50" y="313.26" font-size="6.2" font-weight="normal" text-anchor="end" fill="#222" stroke="#222" stroke-width="0.15">20</text>
<line x1="190.80" y1="295.42" x2="193.60" y2="295.42" stroke="#000" stroke-width="1.0" />
<text x="190.50" y="297.62" font-size="6.2" font-weight="normal" text-anchor="end" fill="#222" stroke="#222" stroke-width="0.15">40</text>
<line x1="190.80" y1="279.78" x2="193.60" y2="279.78" stroke="#000" stroke-width="1.0" />
<text x="190.50" y="281.98" font-size="6.2" font-weight="normal" text-anchor="end" fill="#222" stroke="#222" stroke-width="0.15">60</text>
<line x1="190.80" y1="264.14" x2="193.60" y2="264.14" stroke="#000" stroke-width="1.0" />
<text x="190.50" y="266.34" font-size="6.2" font-weight="normal" text-anchor="end" fill="#222" stroke="#222" stroke-width="0.15">80</text>
<line x1="190.80" y1="248.50" x2="193.60" y2="248.50" stroke="#000" stroke-width="1.0" />
<text x="190.50" y="250.70" font-size="6.2" font-weight="normal" text-anchor="end" fill="#222" stroke="#222" stroke-width="0.15">100</text>
<rect x="204.9" y="249.00" width="18.6" height="77.70" fill="#6e6e6e" stroke="#000" stroke-width="1.2"/>
<line x1="251.70" y1="278.20" x2="251.70" y2="280.17" stroke="#000" stroke-width="1.2" />
<line x1="247.50" y1="278.20" x2="255.90" y2="278.20" stroke="#000" stroke-width="1.2" />
<rect x="242.7" y="280.67" width="18.6" height="46.03" fill="#fff" stroke="#000" stroke-width="1.2"/>
<text x="251.50" y="270.30" font-size="10" font-weight="bold" text-anchor="middle" fill="#555" textLength="10.4" lengthAdjust="spacingAndGlyphs" >***</text>
<line x1="233.00" y1="326.80" x2="233.00" y2="329.00" stroke="#000" stroke-width="1.0" />
<text x="233.00" y="335.90" font-size="7" font-weight="normal" text-anchor="middle" fill="#222" >3</text>
<text x="233.00" y="344.10" font-size="7.2" font-weight="bold" text-anchor="middle" fill="#111" textLength="83" lengthAdjust="spacingAndGlyphs" >Time post infection (hours)</text>
<text x="169.70" y="286.80" font-size="6.3" font-weight="bold" text-anchor="middle" fill="#2a2a2a" textLength="49" lengthAdjust="spacingAndGlyphs" transform="rotate(-90 169.70 286.80)" >Relative ratio of</text>
<text x="178.20" y="289.70" font-size="6.3" font-weight="bold" text-anchor="middle" fill="#2a2a2a" textLength="58" lengthAdjust="spacingAndGlyphs" transform="rotate(-90 178.20 289.70)" >EV71 viral RNA (%)</text>
<rect x="274.3" y="247.3" width="8.6" height="4.6" fill="#6e6e6e" stroke="#000" stroke-width="1.1"/>
<rect x="274.3" y="256.5" width="8.6" height="4.6" fill="#fff" stroke="#000" stroke-width="1.1"/>
<text x="287.00" y="251.90" font-size="6.2" font-weight="normal" text-anchor="start" fill="#333" textLength="9.2" lengthAdjust="spacingAndGlyphs" >RD</text>
<text x="287.00" y="261.00" font-size="6.2" font-weight="normal" text-anchor="start" fill="#333" textLength="30.3" lengthAdjust="spacingAndGlyphs" >shPLG-RD</text>
<text x="353.30" y="171.20" font-size="11.6" font-weight="bold" text-anchor="start" fill="#000" >(F)</text>
<line x1="388.30" y1="184.00" x2="388.30" y2="344.50" stroke="#3a3aa8" stroke-width="1.3" />
<line x1="388.00" y1="297.70" x2="636.50" y2="297.70" stroke="#3a3aa8" stroke-width="1.3" />
<line x1="385.30" y1="337.63" x2="388.30" y2="337.63" stroke="#3a3aa8" stroke-width="1.1" />
<text x="384.60" y="340.33" font-size="7.9" font-weight="bold" text-anchor="end" fill="#24248e" textLength="10.549999999999999" lengthAdjust="spacingAndGlyphs" >-60</text>
<line x1="385.30" y1="324.32" x2="388.30" y2="324.32" stroke="#3a3aa8" stroke-width="1.1" />
<text x="384.60" y="327.02" font-size="7.9" font-weight="bold" text-anchor="end" fill="#24248e" textLength="10.549999999999999" lengthAdjust="spacingAndGlyphs" >-40</text>
<line x1="385.30" y1="311.01" x2="388.30" y2="311.01" stroke="#3a3aa8" stroke-width="1.1" />
<text x="384.60" y="313.71" font-size="7.9" font-weight="bold" text-anchor="end" fill="#24248e" textLength="10.549999999999999" lengthAdjust="spacingAndGlyphs" >-20</text>
<line x1="385.30" y1="297.70" x2="388.30" y2="297.70" stroke="#3a3aa8" stroke-width="1.1" />
<text x="384.60" y="300.40" font-size="7.9" font-weight="bold" text-anchor="end" fill="#24248e" textLength="3.65" lengthAdjust="spacingAndGlyphs" >0</text>
<line x1="385.30" y1="284.39" x2="388.30" y2="284.39" stroke="#3a3aa8" stroke-width="1.1" />
<text x="384.60" y="287.09" font-size="7.9" font-weight="bold" text-anchor="end" fill="#24248e" textLength="7.3" lengthAdjust="spacingAndGlyphs" >20</text>
<line x1="385.30" y1="271.08" x2="388.30" y2="271.08" stroke="#3a3aa8" stroke-width="1.1" />
<text x="384.60" y="273.78" font-size="7.9" font-weight="bold" text-anchor="end" fill="#24248e" textLength="7.3" lengthAdjust="spacingAndGlyphs" >40</text>
<line x1="385.30" y1="257.77" x2="388.30" y2="257.77" stroke="#3a3aa8" stroke-width="1.1" />
<text x="384.60" y="260.47" font-size="7.9" font-weight="bold" text-anchor="end" fill="#24248e" textLength="7.3" lengthAdjust="spacingAndGlyphs" >60</text>
<line x1="385.30" y1="244.46" x2="388.30" y2="244.46" stroke="#3a3aa8" stroke-width="1.1" />
<text x="384.60" y="247.16" font-size="7.9" font-weight="bold" text-anchor="end" fill="#24248e" textLength="7.3" lengthAdjust="spacingAndGlyphs" >80</text>
<line x1="385.30" y1="231.15" x2="388.30" y2="231.15" stroke="#3a3aa8" stroke-width="1.1" />
<text x="384.60" y="233.85" font-size="7.9" font-weight="bold" text-anchor="end" fill="#24248e" textLength="10.95" lengthAdjust="spacingAndGlyphs" >100</text>
<line x1="385.30" y1="217.84" x2="388.30" y2="217.84" stroke="#3a3aa8" stroke-width="1.1" />
<text x="384.60" y="220.54" font-size="7.9" font-weight="bold" text-anchor="end" fill="#24248e" textLength="10.95" lengthAdjust="spacingAndGlyphs" >120</text>
<line x1="385.30" y1="204.53" x2="388.30" y2="204.53" stroke="#3a3aa8" stroke-width="1.1" />
<text x="384.60" y="207.23" font-size="7.9" font-weight="bold" text-anchor="end" fill="#24248e" textLength="10.95" lengthAdjust="spacingAndGlyphs" >140</text>
<line x1="385.30" y1="191.22" x2="388.30" y2="191.22" stroke="#3a3aa8" stroke-width="1.1" />
<text x="384.60" y="193.92" font-size="7.9" font-weight="bold" text-anchor="end" fill="#24248e" textLength="10.95" lengthAdjust="spacingAndGlyphs" >160</text>
<line x1="443.27" y1="297.70" x2="443.27" y2="300.20" stroke="#3a3aa8" stroke-width="1.1" />
<text x="443.27" y="308.60" font-size="8.8" font-weight="bold" text-anchor="middle" fill="#24248e" textLength="11.6" lengthAdjust="spacingAndGlyphs" >100</text>
<line x1="498.34" y1="297.70" x2="498.34" y2="300.20" stroke="#3a3aa8" stroke-width="1.1" />
<text x="498.34" y="308.60" font-size="8.8" font-weight="bold" text-anchor="middle" fill="#24248e" textLength="11.6" lengthAdjust="spacingAndGlyphs" >200</text>
<line x1="553.41" y1="297.70" x2="553.41" y2="300.20" stroke="#3a3aa8" stroke-width="1.1" />
<text x="553.41" y="308.60" font-size="8.8" font-weight="bold" text-anchor="middle" fill="#24248e" textLength="11.6" lengthAdjust="spacingAndGlyphs" >300</text>
<line x1="608.48" y1="297.70" x2="608.48" y2="300.20" stroke="#3a3aa8" stroke-width="1.1" />
<text x="608.48" y="308.60" font-size="8.8" font-weight="bold" text-anchor="middle" fill="#24248e" textLength="11.6" lengthAdjust="spacingAndGlyphs" >400</text>
<text x="511.90" y="342.60" font-size="8.4" font-weight="bold" text-anchor="middle" fill="#24248e" textLength="37.8" lengthAdjust="spacingAndGlyphs" >Times (sec)</text>
<text x="367.20" y="264.10" font-size="7.8" font-weight="bold" text-anchor="middle" fill="#24248e" textLength="65" lengthAdjust="spacingAndGlyphs" transform="rotate(-90 367.20 264.10)" >Response unit (RU)</text>
<line x1="565.40" y1="175.30" x2="576.10" y2="175.30" stroke="#e9a080" stroke-width="1.3" />
<text x="581.50" y="178.30" font-size="8.0" font-weight="normal" text-anchor="start" fill="#3a3aa0" textLength="15.5" lengthAdjust="spacingAndGlyphs" >BSA</text>
<line x1="565.40" y1="186.35" x2="576.10" y2="186.35" stroke="#3a6e3a" stroke-width="1.3" />
<text x="581.50" y="189.35" font-size="7.8" font-weight="normal" text-anchor="start" fill="#3a3aa0" textLength="56.5" lengthAdjust="spacingAndGlyphs" >Virus 150 µg/mL</text>
<line x1="565.40" y1="197.40" x2="576.10" y2="197.40" stroke="#f0bca0" stroke-width="1.3" />
<text x="581.50" y="200.40" font-size="7.8" font-weight="normal" text-anchor="start" fill="#3a3aa0" textLength="56.5" lengthAdjust="spacingAndGlyphs" >Virus 250 µg/mL</text>
<line x1="565.40" y1="208.45" x2="576.10" y2="208.45" stroke="#d8d040" stroke-width="1.3" />
<text x="581.50" y="211.45" font-size="7.8" font-weight="normal" text-anchor="start" fill="#3a3aa0" textLength="56.5" lengthAdjust="spacingAndGlyphs" >Virus 500 µg/mL</text>
<line x1="565.40" y1="219.50" x2="576.10" y2="219.50" stroke="#2eb82e" stroke-width="1.3" />
<text x="581.50" y="222.50" font-size="7.8" font-weight="normal" text-anchor="start" fill="#3a3aa0" textLength="61.0" lengthAdjust="spacingAndGlyphs" >Virus 1000 µg/mL</text>
<line x1="565.40" y1="230.55" x2="576.10" y2="230.55" stroke="#6aa8e8" stroke-width="1.3" />
<text x="581.50" y="233.55" font-size="7.8" font-weight="normal" text-anchor="start" fill="#3a3aa0" textLength="61.0" lengthAdjust="spacingAndGlyphs" >Virus 2000 µg/mL</text>
<line x1="565.40" y1="241.60" x2="576.10" y2="241.60" stroke="#a020c8" stroke-width="1.3" />
<text x="581.50" y="244.60" font-size="7.8" font-weight="normal" text-anchor="start" fill="#3a3aa0" textLength="61.0" lengthAdjust="spacingAndGlyphs" >Virus 4000 µg/mL</text>
<line x1="565.40" y1="252.65" x2="576.10" y2="252.65" stroke="#1a2a8c" stroke-width="1.3" />
<text x="581.50" y="255.65" font-size="7.8" font-weight="normal" text-anchor="start" fill="#3a3aa0" textLength="61.0" lengthAdjust="spacingAndGlyphs" >Virus 8000 µg/mL</text>
<line x1="565.40" y1="263.70" x2="576.10" y2="263.70" stroke="#d8a070" stroke-width="1.3" />
<text x="581.50" y="266.70" font-size="7.8" font-weight="normal" text-anchor="start" fill="#3a3aa0" textLength="64.3" lengthAdjust="spacingAndGlyphs" >Virus 16000 µg/mL</text>
<polyline points="388.70,297.70 398.50,297.70 403.30,295.04 498.20,295.10 500.50,297.37 625.60,298.03" fill="none" stroke="#f0a0a8" stroke-width="1.1" stroke-linejoin="round"/>
<polyline points="398.50,297.70 403.40,297.03 403.60,291.71 404.30,291.58 405.00,291.46 405.70,291.33 406.40,291.21 407.10,291.09 407.80,290.97 408.50,290.85 409.20,290.74 409.90,290.63 410.60,290.52 411.30,290.43 412.00,290.34 412.70,290.26 413.40,290.18 414.10,290.12 414.80,290.06 415.50,290.01 416.20,289.97 416.90,289.92 417.60,289.88 418.30,289.84 419.00,289.80 419.70,289.76 420.40,289.73 421.10,289.69 421.80,289.66 422.50,289.62 423.20,289.59 423.90,289.56 424.60,289.53 425.30,289.50 426.00,289.47 426.70,289.45 427.40,289.42 428.10,289.39 428.80,289.37 429.50,289.35 430.20,289.32 430.90,289.30 431.60,289.28 432.30,289.26 433.00,289.24 433.70,289.22 434.40,289.20 435.10,289.18 435.80,289.16 436.50,289.14 437.20,289.12 437.90,289.10 438.60,289.08 439.30,289.07 440.00,289.05 440.70,289.03 441.40,289.01 442.10,289.00 442.80,288.98 443.50,288.96 444.20,288.94 444.90,288.92 445.60,288.91 446.30,288.89 447.00,288.87 447.70,288.85 448.40,288.84 449.10,288.82 449.80,288.80 450.50,288.79 451.20,288.77 451.90,288.75 452.60,288.73 453.30,288.72 454.00,288.70 454.70,288.68 455.40,288.67 456.10,288.65 456.80,288.64 457.50,288.62 458.20,288.60 458.90,288.59 459.60,288.57 460.30,288.56 461.00,288.54 461.70,288.53 462.40,288.51 463.10,288.50 463.80,288.48 464.50,288.47 465.20,288.45 465.90,288.44 466.60,288.42 467.30,288.41 468.00,288.40 468.70,288.38 469.40,288.37 470.10,288.36 470.80,288.34 471.50,288.33 472.20,288.32 472.90,288.30 473.60,288.29 474.30,288.28 475.00,288.27 475.70,288.26 476.40,288.25 477.10,288.24 477.80,288.23 478.50,288.21 479.20,288.20 479.90,288.19 480.60,288.19 481.30,288.18 482.00,288.17 482.70,288.16 483.40,288.15 484.10,288.14 484.80,288.13 485.50,288.13 486.20,288.12 486.90,288.11 487.60,288.11 488.30,288.10 489.00,288.09 489.70,288.09 490.40,288.08 491.10,288.08 491.80,288.07 492.50,288.07 493.20,288.07 493.90,288.06 494.60,288.06 495.30,288.06 496.00,288.05 496.70,288.05 497.40,288.05 498.10,288.05 498.20,288.05 498.70,288.05 499.40,288.87 500.10,289.75 500.80,290.68 501.50,291.65 502.20,292.69 502.90,294.00 503.60,295.44 504.30,296.73 505.00,297.58 505.70,297.91 506.40,298.17 507.10,298.38 507.80,298.54 508.50,298.68 509.20,298.79 509.90,298.89 510.60,298.97 511.30,299.05 512.00,299.13 512.70,299.20 513.40,299.27 514.10,299.34 514.80,299.41 515.50,299.47 516.20,299.53 516.90,299.59 517.60,299.65 518.30,299.70 519.00,299.75 519.70,299.80 520.40,299.85 521.10,299.90 521.80,299.94 522.50,299.98 523.20,300.02 523.90,300.06 524.60,300.10 525.30,300.14 526.00,300.17 526.70,300.21 527.40,300.24 528.10,300.27 528.80,300.31 529.50,300.34 530.20,300.37 530.90,300.40 531.60,300.43 532.30,300.45 533.00,300.48 533.70,300.51 534.40,300.54 535.10,300.57 535.80,300.59 536.50,300.62 537.20,300.65 537.90,300.68 538.60,300.70 539.30,300.73 540.00,300.76 540.70,300.79 541.40,300.81 542.10,300.84 542.80,300.87 543.50,300.89 544.20,300.92 544.90,300.95 545.60,300.98 546.30,301.00 547.00,301.03 547.70,301.06 548.40,301.08 549.10,301.11 549.80,301.13 550.50,301.16 551.20,301.19 551.90,301.21 552.60,301.24 553.30,301.26 554.00,301.29 554.70,301.32 555.40,301.34 556.10,301.37 556.80,301.39 557.50,301.42 558.20,301.44 558.90,301.47 559.60,301.49 560.30,301.51 561.00,301.54 561.70,301.56 562.40,301.59 563.10,301.61 563.80,301.63 564.50,301.66 565.20,301.68 565.90,301.70 566.60,301.73 567.30,301.75 568.00,301.77 568.70,301.80 569.40,301.82 570.10,301.84 570.80,301.86 571.50,301.88 572.20,301.91 572.90,301.93 573.60,301.95 574.30,301.97 575.00,301.99 575.70,302.01 576.40,302.03 577.10,302.05 577.80,302.07 578.50,302.09 579.20,302.11 579.90,302.13 580.60,302.15 581.30,302.17 582.00,302.19 582.70,302.21 583.40,302.23 584.10,302.24 584.80,302.26 585.50,302.28 586.20,302.30 586.90,302.31 587.60,302.33 588.30,302.35 589.00,302.37 589.70,302.38 590.40,302.40 591.10,302.41 591.80,302.43 592.50,302.44 593.20,302.46 593.90,302.47 594.60,302.49 595.30,302.50 596.00,302.52 596.70,302.53 597.40,302.54 598.10,302.56 598.80,302.57 599.50,302.58 600.20,302.59 600.90,302.61 601.60,302.62 602.30,302.63 603.00,302.64 603.70,302.65 604.40,302.66 605.10,302.67 605.80,302.68 606.50,302.69 607.20,302.70 607.90,302.71 608.60,302.72 609.30,302.73 610.00,302.73 610.70,302.74 611.40,302.75 612.10,302.76 612.80,302.76 613.50,302.77 614.20,302.78 614.90,302.78 615.60,302.79 616.30,302.79 617.00,302.80 617.70,302.80 618.40,302.80 619.10,302.81 619.80,302.81 620.50,302.81 621.20,302.82 621.90,302.82 622.60,302.82 623.30,302.82 624.00,302.82 624.70,302.82 625.40,302.82 625.60,302.82" fill="none" stroke="#e0a878" stroke-width="1.1" stroke-linejoin="round"/>
<polyline points="403.30,297.70 404.50,291.05 405.20,290.46 405.90,289.90 406.60,289.40 407.30,289.00 408.00,288.72 408.70,288.52 409.40,288.33 410.10,288.16 410.80,288.00 411.50,287.86 412.20,287.74 412.90,287.65 413.60,287.58 414.30,287.53 415.00,287.52 415.70,287.52 416.40,287.53 417.10,287.55 417.80,287.57 418.50,287.60 419.20,287.63 419.90,287.66 420.60,287.70 421.30,287.75 422.00,287.79 422.70,287.84 423.40,287.89 424.10,287.94 424.80,288.00 425.50,288.05 426.20,288.11 426.90,288.16 427.60,288.22 428.30,288.27 429.00,288.34 429.70,288.41 430.40,288.50 431.10,288.59 431.80,288.69 432.50,288.79 433.20,288.89 433.90,289.00 434.60,289.10 435.30,289.20 436.00,289.30 436.70,289.39 437.40,289.48 438.10,289.56 438.80,289.63 439.50,289.68 440.20,289.73 440.90,289.76 441.60,289.80 442.30,289.84 443.00,289.87 443.70,289.90 444.40,289.94 445.10,289.97 445.80,290.00 446.50,290.03 447.20,290.05 447.90,290.08 448.60,290.11 449.30,290.13 450.00,290.15 450.70,290.18 451.40,290.20 452.10,290.22 452.80,290.24 453.50,290.26 454.20,290.28 454.90,290.30 455.60,290.32 456.30,290.34 457.00,290.36 457.70,290.38 458.40,290.40 459.10,290.42 459.80,290.43 460.50,290.45 461.20,290.47 461.90,290.49 462.60,290.50 463.30,290.52 464.00,290.54 464.70,290.56 465.40,290.58 466.10,290.60 466.80,290.62 467.50,290.64 468.20,290.66 468.90,290.68 469.60,290.70 470.30,290.72 471.00,290.74 471.70,290.77 472.40,290.79 473.10,290.81 473.80,290.83 474.50,290.85 475.20,290.88 475.90,290.90 476.60,290.92 477.30,290.94 478.00,290.96 478.70,290.99 479.40,291.01 480.10,291.03 480.80,291.05 481.50,291.07 482.20,291.10 482.90,291.12 483.60,291.14 484.30,291.16 485.00,291.18 485.70,291.20 486.40,291.22 487.10,291.25 487.80,291.27 488.50,291.29 489.20,291.31 489.90,291.33 490.60,291.35 491.30,291.37 492.00,291.39 492.70,291.41 493.40,291.44 494.10,291.46 494.80,291.48 495.50,291.50 496.20,291.52 496.90,291.54 497.60,291.56 498.20,291.58 498.70,291.71 499.40,292.81 500.10,293.83 500.80,294.75 501.50,295.55 502.20,296.19 502.90,296.65 503.60,296.97 504.30,297.26 505.00,297.50 505.70,297.69 506.40,297.83 507.10,297.91 507.80,297.96 508.50,298.00 509.20,298.04 509.90,298.07 510.60,298.09 511.30,298.10 512.00,298.10 512.70,298.10 513.40,298.10 514.10,298.10 514.80,298.09 515.50,298.09 516.20,298.09 516.90,298.08 517.60,298.08 518.30,298.08 519.00,298.07 519.70,298.07 520.40,298.06 521.10,298.06 521.80,298.05 522.50,298.05 523.20,298.04 523.90,298.04 524.60,298.03 525.30,298.02 526.00,298.02 526.70,298.01 527.40,298.01 528.10,298.00 528.80,298.00 529.50,297.99 530.20,297.99 530.90,297.98 531.60,297.98 532.30,297.98 533.00,297.97 533.70,297.97 534.40,297.97 535.10,297.97 535.80,297.96 536.50,297.96 537.20,297.96 537.90,297.96 538.60,297.96 539.30,297.96 540.00,297.95 540.70,297.95 541.40,297.95 542.10,297.95 542.80,297.95 543.50,297.94 544.20,297.94 544.90,297.94 545.60,297.94 546.30,297.94 547.00,297.94 547.70,297.93 548.40,297.93 549.10,297.93 549.80,297.93 550.50,297.93 551.20,297.93 551.90,297.92 552.60,297.92 553.30,297.92 554.00,297.92 554.70,297.92 555.40,297.92 556.10,297.92 556.80,297.91 557.50,297.91 558.20,297.91 558.90,297.91 559.60,297.91 560.30,297.91 561.00,297.90 561.70,297.90 562.40,297.90 563.10,297.90 563.80,297.90 564.50,297.90 565.20,297.90 565.90,297.89 566.60,297.89 567.30,297.89 568.00,297.89 568.70,297.89 569.40,297.89 570.10,297.89 570.80,297.89 571.50,297.88 572.20,297.88 572.90,297.88 573.60,297.88 574.30,297.88 575.00,297.88 575.70,297.88 576.40,297.88 577.10,297.87 577.80,297.87 578.50,297.87 579.20,297.87 579.90,297.87 580.60,297.87 581.30,297.87 582.00,297.87 582.70,297.87 583.40,297.87 584.10,297.86 584.80,297.86 585.50,297.86 586.20,297.86 586.90,297.86 587.60,297.86 588.30,297.86 589.00,297.86 589.70,297.86 590.40,297.86 591.10,297.85 591.80,297.85 592.50,297.85 593.20,297.85 593.90,297.85 594.60,297.85 595.30,297.85 596.00,297.85 596.70,297.85 597.40,297.85 598.10,297.85 598.80,297.85 599.50,297.85 600.20,297.85 600.90,297.84 601.60,297.84 602.30,297.84 603.00,297.84 603.70,297.84 604.40,297.84 605.10,297.84 605.80,297.84 606.50,297.84 607.20,297.84 607.90,297.84 608.60,297.84 609.30,297.84 610.00,297.84 610.70,297.84 611.40,297.84 612.10,297.84 612.80,297.84 613.50,297.84 614.20,297.84 614.90,297.84 615.60,297.84 616.30,297.83 617.00,297.83 617.70,297.83 618.40,297.83 619.10,297.83 619.80,297.83 620.50,297.83 621.20,297.83 621.90,297.83 622.60,297.83 623.30,297.83 624.00,297.83 624.70,297.83 625.40,297.83 625.60,297.83" fill="none" stroke="#1e7a1e" stroke-width="1.2" stroke-linejoin="round"/>
<polyline points="403.30,297.70 404.50,291.38 405.20,291.31 405.90,291.23 406.60,291.16 407.30,291.09 408.00,291.02 408.70,290.95 409.40,290.88 410.10,290.81 410.80,290.75 411.50,290.68 412.20,290.62 412.90,290.56 413.60,290.50 414.30,290.44 415.00,290.38 415.70,290.32 416.40,290.27 417.10,290.21 417.80,290.15 418.50,290.10 419.20,290.04 419.90,289.98 420.60,289.93 421.30,289.87 422.00,289.82 422.70,289.76 423.40,289.71 424.10,289.65 424.80,289.60 425.50,289.55 426.20,289.50 426.90,289.45 427.60,289.40 428.30,289.35 429.00,289.30 429.70,289.25 430.40,289.20 431.10,289.16 431.80,289.12 432.50,289.07 433.20,289.03 433.90,288.99 434.60,288.95 435.30,288.92 436.00,288.88 436.70,288.85 437.40,288.82 438.10,288.79 438.80,288.76 439.50,288.73 440.20,288.71 440.90,288.69 441.60,288.66 442.30,288.64 443.00,288.62 443.70,288.60 444.40,288.58 445.10,288.56 445.80,288.54 446.50,288.52 447.20,288.51 447.90,288.49 448.60,288.47 449.30,288.45 450.00,288.44 450.70,288.42 451.40,288.41 452.10,288.39 452.80,288.38 453.50,288.36 454.20,288.35 454.90,288.33 455.60,288.32 456.30,288.31 457.00,288.29 457.70,288.28 458.40,288.27 459.10,288.25 459.80,288.24 460.50,288.23 461.20,288.22 461.90,288.20 462.60,288.19 463.30,288.18 464.00,288.17 464.70,288.15 465.40,288.14 466.10,288.13 466.80,288.11 467.50,288.10 468.20,288.09 468.90,288.07 469.60,288.06 470.30,288.04 471.00,288.03 471.70,288.02 472.40,288.00 473.10,287.99 473.80,287.97 474.50,287.96 475.20,287.95 475.90,287.93 476.60,287.92 477.30,287.90 478.00,287.89 478.70,287.88 479.40,287.86 480.10,287.85 480.80,287.84 481.50,287.82 482.20,287.81 482.90,287.80 483.60,287.78 484.30,287.77 485.00,287.76 485.70,287.74 486.40,287.73 487.10,287.72 487.80,287.70 488.50,287.69 489.20,287.68 489.90,287.67 490.60,287.65 491.30,287.64 492.00,287.63 492.70,287.61 493.40,287.60 494.10,287.59 494.80,287.58 495.50,287.56 496.20,287.55 496.90,287.54 497.60,287.53 498.20,287.52 498.70,287.72 499.40,288.29 500.10,288.85 500.80,289.38 501.50,289.88 502.20,290.35 502.90,290.78 503.60,291.16 504.30,291.50 505.00,291.77 505.70,292.01 506.40,292.23 507.10,292.44 507.80,292.63 508.50,292.81 509.20,292.97 509.90,293.11 510.60,293.22 511.30,293.31 512.00,293.37 512.70,293.42 513.40,293.47 514.10,293.51 514.80,293.55 515.50,293.58 516.20,293.62 516.90,293.65 517.60,293.68 518.30,293.71 519.00,293.73 519.70,293.76 520.40,293.78 521.10,293.80 521.80,293.82 522.50,293.84 523.20,293.86 523.90,293.88 524.60,293.89 525.30,293.91 526.00,293.93 526.70,293.94 527.40,293.96 528.10,293.98 528.80,293.99 529.50,294.01 530.20,294.03 530.90,294.05 531.60,294.06 532.30,294.08 533.00,294.11 533.70,294.13 534.40,294.15 535.10,294.18 535.80,294.20 536.50,294.23 537.20,294.26 537.90,294.28 538.60,294.31 539.30,294.34 540.00,294.37 540.70,294.40 541.40,294.43 542.10,294.46 542.80,294.49 543.50,294.52 544.20,294.55 544.90,294.58 545.60,294.61 546.30,294.64 547.00,294.67 547.70,294.71 548.40,294.74 549.10,294.77 549.80,294.80 550.50,294.83 551.20,294.86 551.90,294.89 552.60,294.92 553.30,294.94 554.00,294.97 554.70,295.00 555.40,295.03 556.10,295.05 556.80,295.08 557.50,295.11 558.20,295.13 558.90,295.16 559.60,295.18 560.30,295.20 561.00,295.22 561.70,295.24 562.40,295.26 563.10,295.28 563.80,295.30 564.50,295.32 565.20,295.33 565.90,295.35 566.60,295.37 567.30,295.38 568.00,295.40 568.70,295.42 569.40,295.43 570.10,295.45 570.80,295.47 571.50,295.48 572.20,295.50 572.90,295.52 573.60,295.53 574.30,295.55 575.00,295.57 575.70,295.58 576.40,295.60 577.10,295.61 577.80,295.63 578.50,295.65 579.20,295.66 579.90,295.68 580.60,295.69 581.30,295.71 582.00,295.72 582.70,295.74 583.40,295.76 584.10,295.77 584.80,295.79 585.50,295.80 586.20,295.81 586.90,295.83 587.60,295.84 588.30,295.86 589.00,295.87 589.70,295.89 590.40,295.90 591.10,295.91 591.80,295.93 592.50,295.94 593.20,295.95 593.90,295.97 594.60,295.98 595.30,295.99 596.00,296.00 596.70,296.02 597.40,296.03 598.10,296.04 598.80,296.05 599.50,296.06 600.20,296.08 600.90,296.09 601.60,296.10 602.30,296.11 603.00,296.12 603.70,296.13 604.40,296.14 605.10,296.15 605.80,296.16 606.50,296.17 607.20,296.17 607.90,296.18 608.60,296.19 609.30,296.20 610.00,296.21 610.70,296.22 611.40,296.22 612.10,296.23 612.80,296.24 613.50,296.24 614.20,296.25 614.90,296.25 615.60,296.26 616.30,296.27 617.00,296.27 617.70,296.27 618.40,296.28 619.10,296.28 619.80,296.29 620.50,296.29 621.20,296.29 621.90,296.29 622.60,296.30 623.30,296.30 624.00,296.30 624.70,296.30 625.40,296.30 625.60,296.30" fill="none" stroke="#f2b070" stroke-width="1.2" stroke-linejoin="round"/>
<polyline points="403.30,297.70 404.50,290.91 405.20,290.14 405.90,289.39 406.60,288.72 407.30,288.15 408.00,287.72 408.70,287.38 409.40,287.06 410.10,286.75 410.80,286.48 411.50,286.23 412.20,286.01 412.90,285.82 413.60,285.68 414.30,285.58 415.00,285.52 415.70,285.49 416.40,285.47 417.10,285.44 417.80,285.42 418.50,285.40 419.20,285.39 419.90,285.37 420.60,285.36 421.30,285.35 422.00,285.34 422.70,285.33 423.40,285.32 424.10,285.31 424.80,285.30 425.50,285.29 426.20,285.29 426.90,285.28 427.60,285.26 428.30,285.25 429.00,285.24 429.70,285.22 430.40,285.21 431.10,285.19 431.80,285.16 432.50,285.14 433.20,285.12 433.90,285.09 434.60,285.06 435.30,285.03 436.00,285.00 436.70,284.97 437.40,284.94 438.10,284.90 438.80,284.87 439.50,284.83 440.20,284.80 440.90,284.76 441.60,284.72 442.30,284.68 443.00,284.64 443.70,284.59 444.40,284.55 445.10,284.51 445.80,284.46 446.50,284.42 447.20,284.37 447.90,284.32 448.60,284.28 449.30,284.23 450.00,284.18 450.70,284.13 451.40,284.08 452.10,284.03 452.80,283.98 453.50,283.93 454.20,283.88 454.90,283.83 455.60,283.78 456.30,283.72 457.00,283.67 457.70,283.62 458.40,283.57 459.10,283.52 459.80,283.47 460.50,283.41 461.20,283.36 461.90,283.30 462.60,283.25 463.30,283.19 464.00,283.14 464.70,283.08 465.40,283.02 466.10,282.96 466.80,282.90 467.50,282.84 468.20,282.78 468.90,282.72 469.60,282.65 470.30,282.59 471.00,282.53 471.70,282.46 472.40,282.40 473.10,282.33 473.80,282.26 474.50,282.20 475.20,282.13 475.90,282.06 476.60,281.99 477.30,281.92 478.00,281.85 478.70,281.78 479.40,281.70 480.10,281.63 480.80,281.56 481.50,281.48 482.20,281.41 482.90,281.33 483.60,281.26 484.30,281.18 485.00,281.10 485.70,281.02 486.40,280.95 487.10,280.87 487.80,280.79 488.50,280.71 489.20,280.63 489.90,280.54 490.60,280.46 491.30,280.38 492.00,280.30 492.70,280.21 493.40,280.13 494.10,280.04 494.80,279.96 495.50,279.87 496.20,279.78 496.90,279.70 497.60,279.61 498.20,279.53 498.70,279.73 499.40,281.56 500.10,283.30 500.80,284.88 501.50,286.27 502.20,287.42 502.90,288.29 503.60,288.93 504.30,289.52 505.00,290.04 505.70,290.50 506.40,290.87 507.10,291.16 507.80,291.34 508.50,291.45 509.20,291.54 509.90,291.63 510.60,291.71 511.30,291.78 512.00,291.85 512.70,291.91 513.40,291.97 514.10,292.02 514.80,292.06 515.50,292.10 516.20,292.14 516.90,292.17 517.60,292.19 518.30,292.21 519.00,292.23 519.70,292.24 520.40,292.25 521.10,292.25 521.80,292.26 522.50,292.27 523.20,292.28 523.90,292.28 524.60,292.29 525.30,292.30 526.00,292.31 526.70,292.31 527.40,292.32 528.10,292.33 528.80,292.33 529.50,292.34 530.20,292.35 530.90,292.35 531.60,292.36 532.30,292.36 533.00,292.37 533.70,292.38 534.40,292.38 535.10,292.39 535.80,292.40 536.50,292.40 537.20,292.41 537.90,292.41 538.60,292.42 539.30,292.42 540.00,292.43 540.70,292.43 541.40,292.44 542.10,292.45 542.80,292.45 543.50,292.46 544.20,292.46 544.90,292.47 545.60,292.47 546.30,292.48 547.00,292.48 547.70,292.49 548.40,292.49 549.10,292.50 549.80,292.50 550.50,292.50 551.20,292.51 551.90,292.51 552.60,292.52 553.30,292.52 554.00,292.53 554.70,292.53 555.40,292.53 556.10,292.54 556.80,292.54 557.50,292.55 558.20,292.55 558.90,292.55 559.60,292.56 560.30,292.56 561.00,292.57 561.70,292.57 562.40,292.57 563.10,292.58 563.80,292.58 564.50,292.58 565.20,292.59 565.90,292.59 566.60,292.59 567.30,292.60 568.00,292.60 568.70,292.60 569.40,292.61 570.10,292.61 570.80,292.61 571.50,292.61 572.20,292.62 572.90,292.62 573.60,292.62 574.30,292.62 575.00,292.63 575.70,292.63 576.40,292.63 577.10,292.64 577.80,292.64 578.50,292.64 579.20,292.64 579.90,292.64 580.60,292.65 581.30,292.65 582.00,292.65 582.70,292.65 583.40,292.66 584.10,292.66 584.80,292.66 585.50,292.66 586.20,292.66 586.90,292.66 587.60,292.67 588.30,292.67 589.00,292.67 589.70,292.67 590.40,292.67 591.10,292.67 591.80,292.68 592.50,292.68 593.20,292.68 593.90,292.68 594.60,292.68 595.30,292.68 596.00,292.68 596.70,292.69 597.40,292.69 598.10,292.69 598.80,292.69 599.50,292.69 600.20,292.69 600.90,292.69 601.60,292.69 602.30,292.69 603.00,292.70 603.70,292.70 604.40,292.70 605.10,292.70 605.80,292.70 606.50,292.70 607.20,292.70 607.90,292.70 608.60,292.70 609.30,292.70 610.00,292.70 610.70,292.70 611.40,292.70 612.10,292.70 612.80,292.70 613.50,292.71 614.20,292.71 614.90,292.71 615.60,292.71 616.30,292.71 617.00,292.71 617.70,292.71 618.40,292.71 619.10,292.71 619.80,292.71 620.50,292.71 621.20,292.71 621.90,292.71 622.60,292.71 623.30,292.71 624.00,292.71 624.70,292.71 625.40,292.71 625.60,292.71" fill="none" stroke="#d8cc30" stroke-width="1.2" stroke-linejoin="round"/>
<polyline points="403.30,297.70 404.30,283.59 405.00,282.95 405.70,282.34 406.40,281.77 407.10,281.26 407.80,280.83 408.50,280.49 409.20,280.16 409.90,279.86 410.60,279.57 411.30,279.30 412.00,279.06 412.70,278.84 413.40,278.64 414.10,278.46 414.80,278.31 415.50,278.18 416.20,278.07 416.90,277.97 417.60,277.88 418.30,277.79 419.00,277.71 419.70,277.64 420.40,277.57 421.10,277.51 421.80,277.45 422.50,277.39 423.20,277.34 423.90,277.29 424.60,277.23 425.30,277.18 426.00,277.12 426.70,277.07 427.40,277.01 428.10,276.95 428.80,276.88 429.50,276.81 430.20,276.73 430.90,276.64 431.60,276.55 432.30,276.44 433.00,276.33 433.70,276.20 434.40,276.07 435.10,275.94 435.80,275.80 436.50,275.67 437.20,275.54 437.90,275.41 438.60,275.29 439.30,275.17 440.00,275.07 440.70,274.98 441.40,274.89 442.10,274.80 442.80,274.72 443.50,274.63 444.20,274.55 444.90,274.48 445.60,274.40 446.30,274.32 447.00,274.25 447.70,274.18 448.40,274.11 449.10,274.04 449.80,273.97 450.50,273.90 451.20,273.84 451.90,273.77 452.60,273.70 453.30,273.64 454.00,273.57 454.70,273.50 455.40,273.43 456.10,273.37 456.80,273.30 457.50,273.23 458.20,273.16 458.90,273.09 459.60,273.01 460.30,272.94 461.00,272.87 461.70,272.80 462.40,272.72 463.10,272.65 463.80,272.58 464.50,272.51 465.20,272.44 465.90,272.36 466.60,272.29 467.30,272.22 468.00,272.15 468.70,272.07 469.40,272.00 470.10,271.93 470.80,271.86 471.50,271.79 472.20,271.72 472.90,271.64 473.60,271.57 474.30,271.50 475.00,271.43 475.70,271.36 476.40,271.29 477.10,271.21 477.80,271.14 478.50,271.07 479.20,271.00 479.90,270.93 480.60,270.86 481.30,270.79 482.00,270.71 482.70,270.64 483.40,270.57 484.10,270.50 484.80,270.43 485.50,270.36 486.20,270.29 486.90,270.22 487.60,270.15 488.30,270.08 489.00,270.01 489.70,269.94 490.40,269.86 491.10,269.79 491.80,269.72 492.50,269.65 493.20,269.58 493.90,269.51 494.60,269.44 495.30,269.37 496.00,269.30 496.70,269.23 497.40,269.16 498.10,269.09 498.20,269.08 498.70,269.42 499.40,271.41 500.10,273.45 500.80,275.52 501.50,277.62 502.20,279.76 502.90,282.15 503.60,284.75 504.30,286.72 505.00,287.68 505.70,288.41 506.40,288.97 507.10,289.34 507.80,289.56 508.50,289.75 509.20,289.93 509.90,290.10 510.60,290.25 511.30,290.39 512.00,290.52 512.70,290.64 513.40,290.75 514.10,290.85 514.80,290.93 515.50,291.01 516.20,291.08 516.90,291.14 517.60,291.19 518.30,291.24 519.00,291.27 519.70,291.30 520.40,291.32 521.10,291.35 521.80,291.37 522.50,291.38 523.20,291.40 523.90,291.42 524.60,291.44 525.30,291.45 526.00,291.46 526.70,291.48 527.40,291.49 528.10,291.50 528.80,291.51 529.50,291.52 530.20,291.53 530.90,291.54 531.60,291.55 532.30,291.55 533.00,291.56 533.70,291.57 534.40,291.57 535.10,291.58 535.80,291.58 536.50,291.59 537.20,291.59 537.90,291.60 538.60,291.60 539.30,291.61 540.00,291.61 540.70,291.62 541.40,291.62 542.10,291.63 542.80,291.63 543.50,291.64 544.20,291.64 544.90,291.65 545.60,291.65 546.30,291.65 547.00,291.66 547.70,291.66 548.40,291.67 549.10,291.67 549.80,291.68 550.50,291.68 551.20,291.68 551.90,291.69 552.60,291.69 553.30,291.70 554.00,291.70 554.70,291.70 555.40,291.71 556.10,291.71 556.80,291.72 557.50,291.72 558.20,291.72 558.90,291.73 559.60,291.73 560.30,291.74 561.00,291.74 561.70,291.74 562.40,291.75 563.10,291.75 563.80,291.75 564.50,291.76 565.20,291.76 565.90,291.76 566.60,291.77 567.30,291.77 568.00,291.77 568.70,291.78 569.40,291.78 570.10,291.78 570.80,291.79 571.50,291.79 572.20,291.79 572.90,291.80 573.60,291.80 574.30,291.80 575.00,291.80 575.70,291.81 576.40,291.81 577.10,291.81 577.80,291.82 578.50,291.82 579.20,291.82 579.90,291.82 580.60,291.83 581.30,291.83 582.00,291.83 582.70,291.83 583.40,291.84 584.10,291.84 584.80,291.84 585.50,291.84 586.20,291.85 586.90,291.85 587.60,291.85 588.30,291.85 589.00,291.85 589.70,291.86 590.40,291.86 591.10,291.86 591.80,291.86 592.50,291.86 593.20,291.87 593.90,291.87 594.60,291.87 595.30,291.87 596.00,291.87 596.70,291.88 597.40,291.88 598.10,291.88 598.80,291.88 599.50,291.88 600.20,291.88 600.90,291.88 601.60,291.89 602.30,291.89 603.00,291.89 603.70,291.89 604.40,291.89 605.10,291.89 605.80,291.89 606.50,291.89 607.20,291.90 607.90,291.90 608.60,291.90 609.30,291.90 610.00,291.90 610.70,291.90 611.40,291.90 612.10,291.90 612.80,291.90 613.50,291.90 614.20,291.90 614.90,291.91 615.60,291.91 616.30,291.91 617.00,291.91 617.70,291.91 618.40,291.91 619.10,291.91 619.80,291.91 620.50,291.91 621.20,291.91 621.90,291.91 622.60,291.91 623.30,291.91 624.00,291.91 624.70,291.91 625.40,291.91 625.60,291.91" fill="none" stroke="#2eb030" stroke-width="1.3" stroke-linejoin="round"/>
<polyline points="403.30,297.70 404.00,273.08 404.70,272.15 405.40,271.18 406.10,270.25 406.80,269.44 407.50,268.81 408.20,268.45 408.90,268.20 409.60,267.97 410.30,267.75 411.00,267.55 411.70,267.35 412.40,267.17 413.10,266.99 413.80,266.83 414.50,266.68 415.20,266.53 415.90,266.39 416.60,266.26 417.30,266.14 418.00,266.03 418.70,265.92 419.40,265.82 420.10,265.72 420.80,265.63 421.50,265.54 422.20,265.45 422.90,265.37 423.60,265.30 424.30,265.22 425.00,265.15 425.70,265.07 426.40,265.00 427.10,264.93 427.80,264.86 428.50,264.79 429.20,264.71 429.90,264.64 430.60,264.56 431.30,264.48 432.00,264.40 432.70,264.32 433.40,264.24 434.10,264.17 434.80,264.09 435.50,264.02 436.20,263.95 436.90,263.87 437.60,263.80 438.30,263.74 439.00,263.67 439.70,263.60 440.40,263.54 441.10,263.47 441.80,263.41 442.50,263.35 443.20,263.28 443.90,263.22 444.60,263.16 445.30,263.11 446.00,263.05 446.70,262.99 447.40,262.94 448.10,262.88 448.80,262.83 449.50,262.77 450.20,262.72 450.90,262.67 451.60,262.61 452.30,262.56 453.00,262.51 453.70,262.46 454.40,262.41 455.10,262.36 455.80,262.31 456.50,262.27 457.20,262.22 457.90,262.17 458.60,262.12 459.30,262.08 460.00,262.03 460.70,261.99 461.40,261.95 462.10,261.92 462.80,261.88 463.50,261.84 464.20,261.81 464.90,261.77 465.60,261.72 466.30,261.68 467.00,261.63 467.70,261.58 468.40,261.52 469.10,261.47 469.80,261.41 470.50,261.35 471.20,261.29 471.90,261.23 472.60,261.17 473.30,261.10 474.00,261.03 474.70,260.96 475.40,260.89 476.10,260.82 476.80,260.75 477.50,260.67 478.20,260.59 478.90,260.51 479.60,260.43 480.30,260.35 481.00,260.27 481.70,260.18 482.40,260.10 483.10,260.01 483.80,259.92 484.50,259.83 485.20,259.73 485.90,259.64 486.60,259.54 487.30,259.44 488.00,259.35 488.70,259.24 489.40,259.14 490.10,259.04 490.80,258.93 491.50,258.83 492.20,258.72 492.90,258.60 493.60,258.48 494.30,258.34 495.00,258.20 495.70,258.05 496.40,257.90 497.10,257.75 497.80,257.59 498.20,257.50 498.70,257.77 499.40,259.74 500.10,262.46 500.80,265.76 501.50,269.46 502.20,274.75 502.90,281.79 503.60,287.14 504.30,288.47 505.00,289.03 505.70,289.43 506.40,289.70 507.10,289.87 507.80,290.00 508.50,290.13 509.20,290.25 509.90,290.36 510.60,290.46 511.30,290.55 512.00,290.63 512.70,290.71 513.40,290.78 514.10,290.85 514.80,290.91 515.50,290.96 516.20,291.01 516.90,291.05 517.60,291.08 518.30,291.12 519.00,291.14 519.70,291.17 520.40,291.19 521.10,291.21 521.80,291.23 522.50,291.25 523.20,291.27 523.90,291.29 524.60,291.31 525.30,291.33 526.00,291.35 526.70,291.36 527.40,291.38 528.10,291.40 528.80,291.42 529.50,291.43 530.20,291.45 530.90,291.46 531.60,291.48 532.30,291.49 533.00,291.51 533.70,291.52 534.40,291.54 535.10,291.55 535.80,291.56 536.50,291.58 537.20,291.59 537.90,291.60 538.60,291.61 539.30,291.63 540.00,291.64 540.70,291.65 541.40,291.66 542.10,291.67 542.80,291.68 543.50,291.69 544.20,291.70 544.90,291.71 545.60,291.71 546.30,291.72 547.00,291.73 547.70,291.74 548.40,291.75 549.10,291.75 549.80,291.76 550.50,291.77 551.20,291.77 551.90,291.78 552.60,291.79 553.30,291.79 554.00,291.80 554.70,291.80 555.40,291.81 556.10,291.81 556.80,291.82 557.50,291.82 558.20,291.82 558.90,291.83 559.60,291.83 560.30,291.83 561.00,291.84 561.70,291.84 562.40,291.84 563.10,291.84 563.80,291.84 564.50,291.84 565.20,291.85 565.90,291.85 566.60,291.85 567.30,291.85 568.00,291.85 568.70,291.85 569.40,291.85 570.10,291.86 570.80,291.86 571.50,291.86 572.20,291.86 572.90,291.86 573.60,291.86 574.30,291.86 575.00,291.86 575.70,291.87 576.40,291.87 577.10,291.87 577.80,291.87 578.50,291.87 579.20,291.87 579.90,291.87 580.60,291.87 581.30,291.88 582.00,291.88 582.70,291.88 583.40,291.88 584.10,291.88 584.80,291.88 585.50,291.88 586.20,291.88 586.90,291.88 587.60,291.88 588.30,291.89 589.00,291.89 589.70,291.89 590.40,291.89 591.10,291.89 591.80,291.89 592.50,291.89 593.20,291.89 593.90,291.89 594.60,291.89 595.30,291.89 596.00,291.89 596.70,291.90 597.40,291.90 598.10,291.90 598.80,291.90 599.50,291.90 600.20,291.90 600.90,291.90 601.60,291.90 602.30,291.90 603.00,291.90 603.70,291.90 604.40,291.90 605.10,291.90 605.80,291.90 606.50,291.90 607.20,291.90 607.90,291.90 608.60,291.90 609.30,291.91 610.00,291.91 610.70,291.91 611.40,291.91 612.10,291.91 612.80,291.91 613.50,291.91 614.20,291.91 614.90,291.91 615.60,291.91 616.30,291.91 617.00,291.91 617.70,291.91 618.40,291.91 619.10,291.91 619.80,291.91 620.50,291.91 621.20,291.91 621.90,291.91 622.60,291.91 623.30,291.91 624.00,291.91 624.70,291.91 625.40,291.91 625.60,291.91" fill="none" stroke="#70a8e0" stroke-width="1.2" stroke-linejoin="round"/>
<polyline points="403.30,297.70 404.20,254.44 404.20,254.44 405.38,252.46 406.55,250.82 407.72,249.46 408.90,248.32 410.07,247.36 411.25,246.53 412.43,245.81 413.60,245.17 414.77,244.60 415.95,244.09 417.12,243.62 418.30,243.18 419.47,242.77 420.65,242.38 421.82,242.00 423.00,241.64 424.18,241.29 425.35,240.94 426.52,240.61 427.70,240.27 428.88,239.95 430.05,239.62 431.22,239.30 432.40,238.98 433.57,238.66 434.75,238.34 435.93,238.03 437.10,237.71 438.27,237.39 439.45,237.08 440.62,236.77 441.80,236.45 442.97,236.14 444.15,235.82 445.32,235.51 446.50,235.20 447.68,234.88 448.85,234.57 450.02,234.26 451.20,233.95 452.38,233.63 453.55,233.32 454.72,233.01 455.90,232.69 457.07,232.38 458.25,232.07 459.43,231.76 460.60,231.44 461.77,231.13 462.95,230.82 464.12,230.50 465.30,230.19 466.47,229.88 467.65,229.57 468.82,229.25 470.00,228.94 471.17,228.63 472.35,228.31 473.52,228.00 474.70,227.69 475.88,227.38 477.05,227.06 478.23,226.75 479.40,226.44 480.57,226.13 481.75,225.81 482.92,225.50 484.10,225.19 485.27,224.87 486.45,224.56 487.62,224.25 488.80,223.94 489.98,223.62 491.15,223.31 492.32,223.00 493.50,222.68 494.67,222.37 495.85,222.06 497.02,221.75 498.20,221.43 499.10,221.43 501.10,235.14 503.00,252.45 503.00,252.45 504.02,259.54 505.04,264.37 506.06,267.69 507.09,269.99 508.11,271.62 509.13,272.80 510.15,273.67 511.17,274.33 512.20,274.85 513.22,275.27 514.24,275.62 515.26,275.92 516.28,276.19 517.30,276.43 518.33,276.64 519.35,276.84 520.37,277.03 521.39,277.20 522.41,277.36 523.43,277.52 524.46,277.66 525.48,277.80 526.50,277.93 527.52,278.05 528.54,278.17 529.56,278.28 530.59,278.39 531.61,278.49 532.63,278.58 533.65,278.67 534.67,278.76 535.69,278.84 536.72,278.92 537.74,278.99 538.76,279.06 539.78,279.13 540.80,279.19 541.82,279.25 542.85,279.31 543.87,279.36 544.89,279.41 545.91,279.46 546.93,279.51 547.95,279.55 548.98,279.60 550.00,279.64 551.02,279.67 552.04,279.71 553.06,279.74 554.08,279.78 555.11,279.81 556.13,279.84 557.15,279.86 558.17,279.89 559.19,279.92 560.21,279.94 561.24,279.96 562.26,279.98 563.28,280.00 564.30,280.02 565.32,280.04 566.34,280.06 567.37,280.08 568.39,280.09 569.41,280.11 570.43,280.12 571.45,280.14 572.47,280.15 573.50,280.16 574.52,280.17 575.54,280.18 576.56,280.20 577.58,280.21 578.60,280.21 579.62,280.22 580.65,280.23 581.67,280.24 582.69,280.25 583.71,280.26 584.73,280.26 585.75,280.27 586.78,280.28 587.80,280.28 588.82,280.29 589.84,280.29 590.86,280.30 591.88,280.30 592.91,280.31 593.93,280.31 594.95,280.32 595.97,280.32 596.99,280.32 598.01,280.33 599.04,280.33 600.06,280.33 601.08,280.34 602.10,280.34 603.12,280.34 604.14,280.35 605.17,280.35 606.19,280.35 607.21,280.35 608.23,280.36 609.25,280.36 610.27,280.36 611.30,280.36 612.32,280.36 613.34,280.36 614.36,280.37 615.38,280.37 616.40,280.37 617.43,280.37 618.45,280.37 619.47,280.37 620.49,280.37 621.51,280.38 622.54,280.38 623.56,280.38 624.58,280.38 625.60,280.38" fill="none" stroke="#a020c8" stroke-width="1.3" stroke-linejoin="round"/>
<polyline points="388.70,297.70 398.50,297.70 401.50,338.96 403.00,297.70 404.20,232.48 404.20,232.48 405.38,228.15 406.55,224.56 407.72,221.57 408.90,219.05 410.07,216.91 411.25,215.08 412.43,213.49 413.60,212.11 414.77,210.90 415.95,209.82 417.12,208.86 418.30,207.98 419.47,207.19 420.65,206.46 421.82,205.79 423.00,205.16 424.18,204.58 425.35,204.04 426.52,203.53 427.70,203.05 428.88,202.59 430.05,202.16 431.22,201.75 432.40,201.36 433.57,200.99 434.75,200.63 435.93,200.29 437.10,199.97 438.27,199.66 439.45,199.37 440.62,199.09 441.80,198.82 442.97,198.56 444.15,198.31 445.32,198.07 446.50,197.84 447.68,197.63 448.85,197.42 450.02,197.22 451.20,197.02 452.38,196.84 453.55,196.66 454.72,196.49 455.90,196.33 457.07,196.18 458.25,196.03 459.43,195.88 460.60,195.75 461.77,195.62 462.95,195.49 464.12,195.37 465.30,195.25 466.47,195.14 467.65,195.04 468.82,194.93 470.00,194.84 471.17,194.74 472.35,194.65 473.52,194.57 474.70,194.48 475.88,194.40 477.05,194.33 478.23,194.25 479.40,194.18 480.57,194.12 481.75,194.05 482.92,193.99 484.10,193.93 485.27,193.88 486.45,193.82 487.62,193.77 488.80,193.72 489.98,193.67 491.15,193.62 492.32,193.58 493.50,193.54 494.67,193.50 495.85,193.46 497.02,193.42 498.20,193.39 499.00,193.22 501.00,203.86 502.00,229.82 503.00,247.79 504.02,256.96 505.04,263.13 506.06,267.31 507.09,270.16 508.11,272.12 509.13,273.50 510.15,274.48 511.17,275.20 512.20,275.75 513.22,276.17 514.24,276.52 515.26,276.81 516.28,277.07 517.30,277.30 518.33,277.51 519.35,277.71 520.37,277.90 521.39,278.08 522.41,278.25 523.43,278.42 524.46,278.58 525.48,278.74 526.50,278.90 527.52,279.05 528.54,279.20 529.56,279.34 530.59,279.49 531.61,279.63 532.63,279.76 533.65,279.90 534.67,280.03 535.69,280.16 536.72,280.28 537.74,280.41 538.76,280.53 539.78,280.65 540.80,280.76 541.82,280.88 542.85,280.99 543.87,281.10 544.89,281.20 545.91,281.31 546.93,281.41 547.95,281.51 548.98,281.61 550.00,281.71 551.02,281.80 552.04,281.89 553.06,281.99 554.08,282.07 555.11,282.16 556.13,282.25 557.15,282.33 558.17,282.41 559.19,282.49 560.21,282.57 561.24,282.65 562.26,282.72 563.28,282.80 564.30,282.87 565.32,282.94 566.34,283.01 567.37,283.08 568.39,283.15 569.41,283.21 570.43,283.28 571.45,283.34 572.47,283.40 573.50,283.46 574.52,283.52 575.54,283.58 576.56,283.64 577.58,283.69 578.60,283.75 579.62,283.80 580.65,283.85 581.67,283.90 582.69,283.95 583.71,284.00 584.73,284.05 585.75,284.10 586.78,284.14 587.80,284.19 588.82,284.23 589.84,284.28 590.86,284.32 591.88,284.36 592.91,284.40 593.93,284.44 594.95,284.48 595.97,284.52 596.99,284.56 598.01,284.60 599.04,284.63 600.06,284.67 601.08,284.70 602.10,284.74 603.12,284.77 604.14,284.80 605.17,284.83 606.19,284.87 607.21,284.90 608.23,284.93 609.25,284.96 610.27,284.98 611.30,285.01 612.32,285.04 613.34,285.07 614.36,285.09 615.38,285.12 616.40,285.15 617.43,285.17 618.45,285.20 619.47,285.22 620.49,285.24 621.51,285.27 622.54,285.29 623.56,285.31 624.58,285.33 625.60,285.35" fill="none" stroke="#3a3a9a" stroke-width="1.3" stroke-linejoin="round"/>
<g opacity="0.9">
<polyline points="404.20,232.48 405.38,228.15 406.55,224.56 407.72,221.57 408.90,219.05 410.07,216.91 411.25,215.08 412.43,213.49 413.60,212.11 414.77,210.90 415.95,209.82 417.12,208.86 418.30,207.98 419.47,207.19 420.65,206.46 421.82,205.79 423.00,205.16 424.18,204.58 425.35,204.04 426.52,203.53 427.70,203.05 428.88,202.59 430.05,202.16 431.22,201.75 432.40,201.36 433.57,200.99 434.75,200.63 435.93,200.29 437.10,199.97 438.27,199.66 439.45,199.37 440.62,199.09 441.80,198.82 442.97,198.56 444.15,198.31 445.32,198.07 446.50,197.84 447.68,197.63 448.85,197.42 450.02,197.22 451.20,197.02 452.38,196.84 453.55,196.66 454.72,196.49 455.90,196.33 457.07,196.18 458.25,196.03 459.43,195.88 460.60,195.75 461.77,195.62 462.95,195.49 464.12,195.37 465.30,195.25 466.47,195.14 467.65,195.04 468.82,194.93 470.00,194.84 471.17,194.74 472.35,194.65 473.52,194.57 474.70,194.48 475.88,194.40 477.05,194.33 478.23,194.25 479.40,194.18 480.57,194.12 481.75,194.05 482.92,193.99 484.10,193.93 485.27,193.88 486.45,193.82 487.62,193.77 488.80,193.72 489.98,193.67 491.15,193.62 492.32,193.58 493.50,193.54 494.67,193.50 495.85,193.46 497.02,193.42 498.20,193.39 499.00,197.88 501.50,231.15 503.00,247.79 504.02,256.96 505.04,263.13 506.06,267.31 507.09,270.16 508.11,272.12 509.13,273.50 510.15,274.48 511.17,275.20 512.20,275.75 513.22,276.17 514.24,276.52 515.26,276.81 516.28,277.07 517.30,277.30 518.33,277.51 519.35,277.71 520.37,277.90 521.39,278.08 522.41,278.25 523.43,278.42 524.46,278.58 525.48,278.74 526.50,278.90 527.52,279.05 528.54,279.20 529.56,279.34 530.59,279.49 531.61,279.63 532.63,279.76 533.65,279.90 534.67,280.03 535.69,280.16 536.72,280.28 537.74,280.41 538.76,280.53 539.78,280.65 540.80,280.76 541.82,280.88 542.85,280.99 543.87,281.10 544.89,281.20 545.91,281.31 546.93,281.41 547.95,281.51 548.98,281.61 550.00,281.71 551.02,281.80 552.04,281.89 553.06,281.99 554.08,282.07 555.11,282.16 556.13,282.25 557.15,282.33 558.17,282.41 559.19,282.49 560.21,282.57 561.24,282.65 562.26,282.72 563.28,282.80 564.30,282.87 565.32,282.94 566.34,283.01 567.37,283.08 568.39,283.15 569.41,283.21 570.43,283.28 571.45,283.34 572.47,283.40 573.50,283.46 574.52,283.52 575.54,283.58 576.56,283.64 577.58,283.69 578.60,283.75 579.62,283.80 580.65,283.85 581.67,283.90 582.69,283.95 583.71,284.00 584.73,284.05 585.75,284.10 586.78,284.14 587.80,284.19 588.82,284.23 589.84,284.28 590.86,284.32 591.88,284.36 592.91,284.40 593.93,284.44 594.95,284.48 595.97,284.52 596.99,284.56 598.01,284.60 599.04,284.63 600.06,284.67 601.08,284.70 602.10,284.74 603.12,284.77 604.14,284.80 605.17,284.83 606.19,284.87 607.21,284.90 608.23,284.93 609.25,284.96 610.27,284.98 611.30,285.01 612.32,285.04 613.34,285.07 614.36,285.09 615.38,285.12 616.40,285.15 617.43,285.17 618.45,285.20 619.47,285.22 620.49,285.24 621.51,285.27 622.54,285.29 623.56,285.31 624.58,285.33 625.60,285.35" fill="none" stroke="#e0946a" stroke-width="1.2" stroke-linejoin="round"/>
</g>
<line x1="440.00" y1="297.70" x2="636.50" y2="297.70" stroke="#3a3aa8" stroke-width="1.3" /></svg>
</body></html>
